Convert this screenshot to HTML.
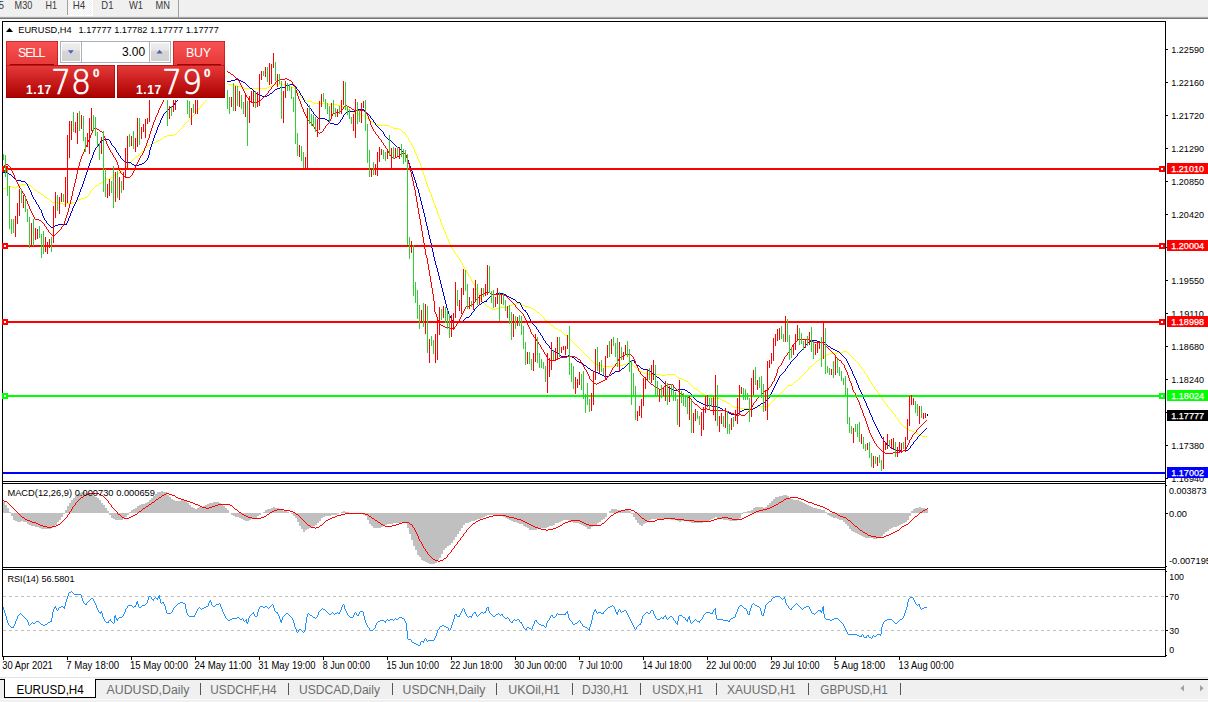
<!DOCTYPE html>
<html><head><meta charset="utf-8"><title>EURUSD,H4</title>
<style>
html,body{margin:0;padding:0}
body{width:1208px;height:702px;overflow:hidden;background:#fff;position:relative;font-family:"Liberation Sans",sans-serif}
.abs{position:absolute}
#tb{left:0;top:0;width:1208px;height:17px;background:#f0f0f0;border-bottom:1px solid #e6e6e6;box-sizing:border-box}
#tbl{left:0;top:17px;width:1208px;height:2px;background:linear-gradient(#a8a8a8 50%,#767676 50%)}
#h4{left:68px;top:0;width:24px;height:15px;background:#f0f0f0 conic-gradient(#fff 25%,#f0f0f0 0 50%,#fff 0 75%,#f0f0f0 0) 0 0/2px 2px;border-right:1px solid #fff;border-bottom:1px solid #fff}
.sep{width:1px;background:#a0a0a0}
#tabbar{left:0;top:677px;width:1208px;height:25px;background:#f0f0f0}
#tabline{left:0;top:679px;width:1208px;height:1px;background:#000}
#tabtop{left:0;top:677px;width:1208px;height:1px;background:#e3e3e3}
#tabbot{left:0;top:699px;width:1208px;height:1px;background:#fbfbfb}
#atab{left:4px;top:679px;width:90px;height:18px;background:#fff;border:1px solid #000;border-top:none}
#atab2{left:5px;top:678px;width:90px;height:2px;background:#fff}
.pbox{background:linear-gradient(#e73a3a,#ab0000);color:#fff;box-shadow:inset 0 0 0 1px rgba(150,0,0,.55)}
.ptab{background:linear-gradient(#f85252,#e63838);color:#fff;box-shadow:inset 1px 1px 0 0 rgba(170,0,0,.5),inset -1px 0 0 0 rgba(170,0,0,.5)}
.big{position:absolute;font-family:'DejaVu Sans Light','DejaVu Sans',sans-serif;font-size:34px;line-height:34px;transform-origin:0 0;transform:scaleX(.93);-webkit-text-stroke:.7px #fff}
.sm{position:absolute;font-size:12px;line-height:12px;font-weight:bold;letter-spacing:.6px}
.sup{position:absolute;font-size:11.5px;line-height:11px;font-weight:bold;-webkit-text-stroke:.3px #fff}
.lab{position:absolute;font-size:12.4px;line-height:12px;letter-spacing:-.2px}
</style></head><body>
<div class="abs" id="tb"></div><div class="abs" id="tbl"></div>
<div class="abs" id="h4"></div>
<div class="abs sep" style="left:67px;top:0;height:15px"></div>
<div class="abs sep" style="left:178px;top:0;height:17px"></div>
<div class="abs" id="tabbar"></div><div class="abs" id="tabtop"></div><div class="abs" id="tabline"></div><div class="abs" id="tabbot"></div>
<div class="abs" id="atab"></div><div class="abs" id="atab2"></div>
<svg width="1208" height="702" viewBox="0 0 1208 702" style="position:absolute;left:0;top:0" font-family="Liberation Sans, sans-serif">
<g shape-rendering="crispEdges" fill="none" stroke="#000" stroke-width="1">
<path d="M2.5,657 V21.5 H1165.5 V657"/>
<path d="M2,481.5 H1166 M2,483.5 H1166 M2,567.5 H1166 M2,569.5 H1166 M2,656.5 H1166"/>
<path d="M1166,49.5 h2 M1166,82.5 h2 M1166,115.5 h2 M1166,148.5 h2 M1166,181.5 h2 M1166,214.5 h2 M1166,247.5 h2 M1166,280.5 h2 M1166,313.5 h2 M1166,346.5 h2 M1166,379.5 h2 M1166,412.5 h2 M1166,445.5 h2 M1166,478.5 h2 "/>
<path d="M1166,485.5 h1 M1166,513.5 h2 M1166,566.5 h1 M1166,571.5 h1 M1166,596.5 h2 M1166,630.5 h2 M1166,655.5 h1"/>
<path d="M3.5,657 v3 M67.5,657 v3 M131.5,657 v3 M195.5,657 v3 M259.5,657 v3 M323.5,657 v3 M387.5,657 v3 M451.5,657 v3 M515.5,657 v3 M579.5,657 v3 M643.5,657 v3 M707.5,657 v3 M771.5,657 v3 M835.5,657 v3 M899.5,657 v3 "/>
</g>
<path shape-rendering="crispEdges" fill="none" stroke="#ffff00" stroke-width="1" d="M3.5,188v1M4.5,188v1M5.5,188v1M6.5,187v1M7.5,186v1M8.5,186v1M9.5,186v1M10.5,186v1M11.5,186v1M12.5,187v1M13.5,187v1M14.5,187v1M15.5,188v1M16.5,187v1M17.5,186v1M18.5,186v1M19.5,185v1M20.5,185v1M21.5,184v1M22.5,184v1M23.5,184v1M24.5,184v1M25.5,184v1M26.5,184v1M27.5,184v1M28.5,184v1M29.5,185v1M30.5,185v1M31.5,186v1M32.5,187v1M33.5,188v1M34.5,189v1M35.5,190v1M36.5,190v1M37.5,191v1M38.5,192v1M39.5,192v1M40.5,193v1M41.5,194v1M42.5,194v1M43.5,195v1M44.5,196v1M45.5,197v1M46.5,197v1M47.5,198v1M48.5,198v1M49.5,199v1M50.5,200v1M51.5,201v1M52.5,202v1M53.5,202v1M54.5,202v1M55.5,202v1M56.5,202v1M57.5,202v1M58.5,203v1M59.5,203v1M60.5,203v1M61.5,203v1M62.5,203v1M63.5,204v1M64.5,204v1M65.5,204v1M66.5,203v1M67.5,203v1M68.5,203v1M69.5,203v1M70.5,203v1M71.5,203v1M72.5,202v1M73.5,202v1M74.5,202v1M75.5,202v1M76.5,201v1M77.5,200v1M78.5,200v1M79.5,199v1M80.5,199v1M81.5,198v1M82.5,198v1M83.5,198v1M84.5,198v1M85.5,197v1M86.5,197v1M87.5,196v1M88.5,195v1M89.5,193v2M90.5,191v2M91.5,190v1M92.5,189v1M93.5,188v1M94.5,187v1M95.5,186v1M96.5,185v1M97.5,185v1M98.5,184v1M99.5,183v1M100.5,183v1M101.5,182v1M102.5,182v1M103.5,181v1M104.5,180v1M105.5,180v1M106.5,179v1M107.5,179v1M108.5,179v1M109.5,178v1M110.5,178v1M111.5,177v1M112.5,177v1M113.5,176v1M114.5,175v1M115.5,175v1M116.5,174v1M117.5,174v1M118.5,173v1M119.5,172v1M120.5,172v1M121.5,171v1M122.5,170v1M123.5,169v1M124.5,168v1M125.5,167v1M126.5,166v1M127.5,165v1M128.5,164v1M129.5,163v1M130.5,162v1M131.5,161v1M132.5,160v1M133.5,159v1M134.5,158v1M135.5,157v1M136.5,156v1M137.5,156v1M138.5,155v1M139.5,154v1M140.5,153v1M141.5,152v1M142.5,151v1M143.5,150v1M144.5,148v2M145.5,147v1M146.5,147v1M147.5,146v1M148.5,145v1M149.5,145v1M150.5,144v1M151.5,144v1M152.5,143v1M153.5,143v1M154.5,142v1M155.5,142v1M156.5,141v1M157.5,141v1M158.5,140v1M159.5,140v1M160.5,139v1M161.5,139v1M162.5,138v1M163.5,137v1M164.5,136v1M165.5,136v1M166.5,136v1M167.5,135v1M168.5,135v1M169.5,135v1M170.5,135v1M171.5,135v1M172.5,135v1M173.5,135v1M174.5,134v1M175.5,134v1M176.5,133v1M177.5,132v1M178.5,131v1M179.5,130v1M180.5,129v1M181.5,128v1M182.5,127v1M183.5,125v2M184.5,124v1M185.5,123v1M186.5,122v1M187.5,121v1M188.5,120v1M189.5,119v1M190.5,118v1M191.5,117v1M192.5,116v1M193.5,115v1M194.5,114v1M195.5,112v2M196.5,111v1M197.5,110v1M198.5,109v1M199.5,108v1M200.5,107v1M201.5,105v2M202.5,104v1M203.5,103v1M204.5,102v1M205.5,101v1M206.5,100v1M207.5,98v2M208.5,97v1M209.5,96v1M210.5,95v1M211.5,94v1M212.5,93v1M213.5,92v1M214.5,91v1M215.5,90v1M216.5,90v1M217.5,89v1M218.5,88v1M219.5,87v1M220.5,87v1M221.5,86v1M222.5,86v1M223.5,85v1M224.5,85v1M225.5,84v1M226.5,84v1M227.5,83v1M228.5,84v1M229.5,84v1M230.5,84v1M231.5,84v1M232.5,84v1M233.5,84v1M234.5,85v1M235.5,85v1M236.5,85v1M237.5,85v1M238.5,86v1M239.5,86v1M240.5,86v1M241.5,87v1M242.5,87v1M243.5,87v1M244.5,88v1M245.5,88v1M246.5,88v1M247.5,88v1M248.5,88v1M249.5,88v1M250.5,88v1M251.5,88v1M252.5,88v1M253.5,88v1M254.5,88v1M255.5,88v1M256.5,88v1M257.5,88v1M258.5,88v1M259.5,88v1M260.5,88v1M261.5,88v1M262.5,88v1M263.5,88v1M264.5,88v1M265.5,88v1M266.5,88v1M267.5,87v1M268.5,87v1M269.5,86v1M270.5,86v1M271.5,85v1M272.5,85v1M273.5,85v1M274.5,84v1M275.5,84v1M276.5,84v1M277.5,84v1M278.5,84v1M279.5,84v1M280.5,83v1M281.5,84v1M282.5,84v1M283.5,84v1M284.5,84v1M285.5,84v1M286.5,85v1M287.5,85v1M288.5,85v1M289.5,86v1M290.5,86v1M291.5,86v1M292.5,87v1M293.5,87v1M294.5,88v1M295.5,89v1M296.5,90v1M297.5,91v2M298.5,93v1M299.5,94v1M300.5,95v2M301.5,97v1M302.5,98v1M303.5,99v1M304.5,99v1M305.5,100v1M306.5,100v1M307.5,101v1M308.5,101v1M309.5,101v1M310.5,101v1M311.5,101v1M312.5,102v1M313.5,102v1M314.5,103v1M315.5,103v1M316.5,103v1M317.5,103v1M318.5,103v1M319.5,103v1M320.5,103v1M321.5,103v1M322.5,103v1M323.5,103v1M324.5,103v1M325.5,103v1M326.5,103v1M327.5,104v1M328.5,104v1M329.5,104v1M330.5,104v1M331.5,104v1M332.5,104v1M333.5,104v1M334.5,104v1M335.5,104v1M336.5,104v1M337.5,105v1M338.5,105v1M339.5,105v1M340.5,105v1M341.5,105v1M342.5,106v1M343.5,106v1M344.5,107v1M345.5,108v1M346.5,108v1M347.5,108v1M348.5,109v1M349.5,110v1M350.5,110v1M351.5,111v1M352.5,111v1M353.5,112v1M354.5,112v1M355.5,113v1M356.5,113v1M357.5,114v1M358.5,114v1M359.5,114v1M360.5,114v1M361.5,115v1M362.5,115v1M363.5,115v1M364.5,116v1M365.5,117v1M366.5,117v1M367.5,118v1M368.5,119v1M369.5,120v1M370.5,120v1M371.5,121v1M372.5,122v1M373.5,122v1M374.5,123v1M375.5,124v1M376.5,124v1M377.5,124v1M378.5,125v1M379.5,125v1M380.5,125v1M381.5,125v1M382.5,125v1M383.5,125v1M384.5,125v1M385.5,125v1M386.5,125v1M387.5,125v1M388.5,125v1M389.5,126v1M390.5,126v1M391.5,127v1M392.5,127v1M393.5,128v1M394.5,128v1M395.5,128v1M396.5,128v1M397.5,128v1M398.5,128v1M399.5,129v1M400.5,129v1M401.5,130v1M402.5,131v1M403.5,132v1M404.5,132v1M405.5,133v2M406.5,135v2M407.5,137v1M408.5,138v2M409.5,140v2M410.5,142v1M411.5,143v2M412.5,145v2M413.5,147v2M414.5,149v3M415.5,152v2M416.5,154v2M417.5,156v3M418.5,159v2M419.5,161v2M420.5,163v3M421.5,166v3M422.5,169v3M423.5,172v3M424.5,175v3M425.5,178v3M426.5,181v3M427.5,184v3M428.5,187v2M429.5,189v3M430.5,192v2M431.5,194v3M432.5,197v3M433.5,200v3M434.5,203v2M435.5,205v3M436.5,208v3M437.5,211v3M438.5,214v3M439.5,217v2M440.5,219v3M441.5,222v3M442.5,225v2M443.5,227v3M444.5,230v2M445.5,232v3M446.5,235v2M447.5,237v2M448.5,239v3M449.5,242v2M450.5,244v2M451.5,246v2M452.5,248v2M453.5,250v1M454.5,251v2M455.5,253v1M456.5,254v1M457.5,255v2M458.5,257v1M459.5,258v2M460.5,260v2M461.5,262v1M462.5,263v2M463.5,265v2M464.5,267v2M465.5,269v1M466.5,270v2M467.5,272v2M468.5,274v2M469.5,276v1M470.5,277v2M471.5,279v2M472.5,281v2M473.5,283v1M474.5,284v2M475.5,286v2M476.5,288v2M477.5,290v3M478.5,293v2M479.5,295v2M480.5,297v2M481.5,299v2M482.5,301v1M483.5,302v1M484.5,303v1M485.5,304v1M486.5,305v1M487.5,306v1M488.5,306v1M489.5,307v1M490.5,308v1M491.5,308v1M492.5,309v1M493.5,309v1M494.5,309v1M495.5,309v1M496.5,308v1M497.5,308v1M498.5,308v1M499.5,308v1M500.5,307v1M501.5,307v1M502.5,307v1M503.5,307v1M504.5,307v1M505.5,307v1M506.5,307v1M507.5,307v1M508.5,306v1M509.5,306v1M510.5,305v1M511.5,305v1M512.5,304v1M513.5,304v1M514.5,304v1M515.5,304v1M516.5,303v1M517.5,303v1M518.5,303v1M519.5,303v1M520.5,303v1M521.5,304v1M522.5,304v1M523.5,305v1M524.5,305v1M525.5,306v1M526.5,306v1M527.5,306v1M528.5,307v1M529.5,307v1M530.5,307v1M531.5,308v1M532.5,308v1M533.5,309v1M534.5,309v1M535.5,310v1M536.5,311v1M537.5,312v1M538.5,312v1M539.5,313v1M540.5,314v1M541.5,315v1M542.5,316v1M543.5,317v1M544.5,318v2M545.5,320v1M546.5,320v1M547.5,321v1M548.5,322v1M549.5,323v1M550.5,324v1M551.5,325v1M552.5,325v1M553.5,326v1M554.5,327v1M555.5,328v1M556.5,328v1M557.5,329v1M558.5,329v1M559.5,330v1M560.5,330v1M561.5,331v1M562.5,332v1M563.5,333v1M564.5,334v1M565.5,335v1M566.5,335v1M567.5,336v1M568.5,337v1M569.5,338v1M570.5,339v1M571.5,340v1M572.5,341v1M573.5,342v1M574.5,343v1M575.5,344v1M576.5,345v1M577.5,346v1M578.5,347v1M579.5,348v1M580.5,349v1M581.5,350v1M582.5,351v1M583.5,352v1M584.5,353v1M585.5,354v1M586.5,355v1M587.5,356v1M588.5,357v1M589.5,358v1M590.5,359v1M591.5,360v1M592.5,361v1M593.5,362v1M594.5,363v1M595.5,363v1M596.5,364v1M597.5,364v1M598.5,365v1M599.5,365v1M600.5,365v1M601.5,366v1M602.5,366v1M603.5,366v1M604.5,366v1M605.5,366v1M606.5,366v1M607.5,366v1M608.5,366v1M609.5,366v1M610.5,366v1M611.5,366v1M612.5,366v1M613.5,365v1M614.5,365v1M615.5,365v1M616.5,365v1M617.5,365v1M618.5,365v1M619.5,365v1M620.5,365v1M621.5,365v1M622.5,365v1M623.5,364v1M624.5,364v1M625.5,364v1M626.5,363v1M627.5,363v1M628.5,363v1M629.5,363v1M630.5,362v1M631.5,363v1M632.5,364v1M633.5,365v1M634.5,366v1M635.5,367v1M636.5,368v1M637.5,369v1M638.5,369v1M639.5,370v1M640.5,371v1M641.5,371v1M642.5,372v1M643.5,372v1M644.5,373v1M645.5,373v1M646.5,373v1M647.5,374v1M648.5,374v1M649.5,374v1M650.5,374v1M651.5,374v1M652.5,374v1M653.5,374v1M654.5,374v1M655.5,374v1M656.5,374v1M657.5,374v1M658.5,374v1M659.5,374v1M660.5,374v1M661.5,375v1M662.5,375v1M663.5,375v1M664.5,375v1M665.5,375v1M666.5,374v1M667.5,374v1M668.5,374v1M669.5,374v1M670.5,374v1M671.5,374v1M672.5,374v1M673.5,374v1M674.5,374v1M675.5,375v1M676.5,376v1M677.5,377v1M678.5,377v1M679.5,378v1M680.5,378v1M681.5,378v1M682.5,379v1M683.5,379v1M684.5,380v1M685.5,380v1M686.5,381v1M687.5,381v1M688.5,382v1M689.5,383v1M690.5,384v1M691.5,385v1M692.5,386v1M693.5,387v1M694.5,388v1M695.5,388v1M696.5,389v1M697.5,389v1M698.5,390v1M699.5,391v1M700.5,392v1M701.5,393v1M702.5,393v1M703.5,394v1M704.5,394v1M705.5,395v1M706.5,395v1M707.5,396v1M708.5,396v1M709.5,396v1M710.5,397v1M711.5,397v1M712.5,398v1M713.5,398v1M714.5,398v1M715.5,398v1M716.5,398v1M717.5,398v1M718.5,398v1M719.5,398v1M720.5,399v1M721.5,399v1M722.5,400v1M723.5,400v1M724.5,401v1M725.5,401v1M726.5,402v1M727.5,402v1M728.5,403v1M729.5,403v1M730.5,404v1M731.5,405v1M732.5,406v1M733.5,406v1M734.5,407v1M735.5,407v1M736.5,407v1M737.5,407v1M738.5,407v1M739.5,407v1M740.5,408v1M741.5,408v1M742.5,408v1M743.5,408v1M744.5,408v1M745.5,408v1M746.5,408v1M747.5,408v1M748.5,408v1M749.5,408v1M750.5,408v1M751.5,408v1M752.5,408v1M753.5,408v1M754.5,407v1M755.5,407v1M756.5,407v1M757.5,406v1M758.5,406v1M759.5,406v1M760.5,406v1M761.5,406v1M762.5,406v1M763.5,406v1M764.5,406v1M765.5,406v1M766.5,406v1M767.5,405v1M768.5,405v1M769.5,404v2M770.5,403v1M771.5,402v1M772.5,401v1M773.5,400v1M774.5,399v1M775.5,398v1M776.5,397v1M777.5,396v1M778.5,395v1M779.5,394v1M780.5,393v1M781.5,392v1M782.5,391v1M783.5,390v1M784.5,389v1M785.5,388v1M786.5,387v1M787.5,386v1M788.5,385v1M789.5,385v1M790.5,385v1M791.5,385v1M792.5,384v1M793.5,383v1M794.5,382v1M795.5,381v1M796.5,380v1M797.5,380v1M798.5,379v1M799.5,378v1M800.5,377v1M801.5,376v1M802.5,375v1M803.5,374v1M804.5,373v1M805.5,372v1M806.5,371v1M807.5,370v1M808.5,368v2M809.5,367v1M810.5,366v1M811.5,366v1M812.5,365v1M813.5,364v1M814.5,363v1M815.5,362v1M816.5,361v1M817.5,360v1M818.5,360v1M819.5,359v1M820.5,358v1M821.5,358v1M822.5,357v1M823.5,356v1M824.5,356v1M825.5,355v1M826.5,355v1M827.5,354v1M828.5,354v1M829.5,353v1M830.5,353v1M831.5,353v1M832.5,353v1M833.5,353v1M834.5,353v1M835.5,353v1M836.5,353v1M837.5,352v1M838.5,352v1M839.5,352v1M840.5,352v1M841.5,352v1M842.5,352v1M843.5,351v1M844.5,351v1M845.5,351v1M846.5,351v1M847.5,352v1M848.5,353v1M849.5,354v1M850.5,355v1M851.5,356v1M852.5,357v1M853.5,358v1M854.5,359v1M855.5,360v1M856.5,361v1M857.5,362v1M858.5,363v1M859.5,364v2M860.5,366v1M861.5,367v1M862.5,368v2M863.5,370v1M864.5,371v2M865.5,373v1M866.5,374v1M867.5,375v2M868.5,377v2M869.5,379v2M870.5,381v1M871.5,382v2M872.5,384v2M873.5,386v1M874.5,387v2M875.5,389v1M876.5,390v1M877.5,391v1M878.5,392v2M879.5,394v1M880.5,395v2M881.5,397v1M882.5,398v2M883.5,400v1M884.5,401v2M885.5,403v1M886.5,404v1M887.5,405v2M888.5,407v1M889.5,408v1M890.5,409v1M891.5,410v2M892.5,412v1M893.5,413v1M894.5,414v1M895.5,415v2M896.5,417v1M897.5,418v1M898.5,419v2M899.5,421v1M900.5,422v2M901.5,424v1M902.5,425v1M903.5,426v1M904.5,427v1M905.5,427v1M906.5,428v1M907.5,429v1M908.5,429v1M909.5,430v1M910.5,430v1M911.5,430v1M912.5,431v1M913.5,431v1M914.5,432v1M915.5,432v1M916.5,433v1M917.5,433v1M918.5,434v1M919.5,434v1M920.5,435v1M921.5,435v1M922.5,436v1M923.5,436v1M924.5,436v1M925.5,436v1M926.5,436v1"/>
<path shape-rendering="crispEdges" fill="none" stroke="#0000dd" stroke-width="1" d="M3.5,172v1M4.5,172v1M5.5,172v1M6.5,172v1M7.5,172v1M8.5,173v1M9.5,174v1M10.5,174v1M11.5,175v1M12.5,176v1M13.5,177v1M14.5,178v1M15.5,179v1M16.5,180v1M17.5,180v1M18.5,180v1M19.5,180v1M20.5,180v1M21.5,181v1M22.5,181v1M23.5,181v1M24.5,181v1M25.5,182v1M26.5,183v1M27.5,184v2M28.5,186v2M29.5,188v2M30.5,190v2M31.5,192v3M32.5,195v2M33.5,197v2M34.5,199v1M35.5,200v2M36.5,202v2M37.5,204v1M38.5,205v2M39.5,207v2M40.5,209v1M41.5,210v3M42.5,213v3M43.5,216v2M44.5,218v2M45.5,220v1M46.5,221v2M47.5,223v1M48.5,224v1M49.5,225v1M50.5,226v1M51.5,227v1M52.5,227v1M53.5,226v1M54.5,226v1M55.5,225v1M56.5,225v1M57.5,225v1M58.5,224v1M59.5,224v1M60.5,224v1M61.5,224v1M62.5,224v1M63.5,224v1M64.5,224v1M65.5,224v1M66.5,223v2M67.5,221v2M68.5,218v3M69.5,216v2M70.5,213v3M71.5,211v2M72.5,208v3M73.5,206v2M74.5,204v2M75.5,202v2M76.5,200v2M77.5,197v3M78.5,195v2M79.5,192v3M80.5,189v3M81.5,187v2M82.5,184v3M83.5,181v3M84.5,178v3M85.5,175v3M86.5,172v3M87.5,169v3M88.5,166v3M89.5,163v3M90.5,160v3M91.5,158v2M92.5,155v3M93.5,152v3M94.5,150v2M95.5,148v2M96.5,147v1M97.5,146v1M98.5,144v2M99.5,143v1M100.5,141v2M101.5,140v1M102.5,140v1M103.5,140v1M104.5,139v1M105.5,139v1M106.5,139v1M107.5,139v1M108.5,139v1M109.5,140v1M110.5,141v2M111.5,143v2M112.5,145v1M113.5,146v1M114.5,147v1M115.5,148v2M116.5,150v2M117.5,152v1M118.5,153v2M119.5,155v1M120.5,156v2M121.5,158v1M122.5,159v1M123.5,160v1M124.5,161v1M125.5,161v1M126.5,162v1M127.5,162v1M128.5,162v1M129.5,162v1M130.5,162v1M131.5,163v1M132.5,164v1M133.5,164v1M134.5,165v1M135.5,165v1M136.5,165v1M137.5,165v1M138.5,165v1M139.5,164v1M140.5,164v1M141.5,164v1M142.5,163v1M143.5,163v1M144.5,162v1M145.5,161v1M146.5,160v1M147.5,158v2M148.5,155v3M149.5,150v5M150.5,147v3M151.5,144v3M152.5,141v3M153.5,138v3M154.5,135v3M155.5,133v2M156.5,130v3M157.5,127v3M158.5,125v2M159.5,123v2M160.5,120v3M161.5,118v2M162.5,116v2M163.5,114v2M164.5,113v1M165.5,112v1M166.5,111v1M167.5,110v1M168.5,109v1M169.5,108v1M170.5,107v1M171.5,106v1M172.5,106v1M173.5,105v1M174.5,103v2M175.5,102v1M176.5,101v1M177.5,100v1M178.5,99v1M179.5,98v1M180.5,98v1M181.5,97v1M182.5,96v1M183.5,95v1M184.5,94v1M185.5,94v1M186.5,93v1M187.5,92v1M188.5,92v1M189.5,91v1M190.5,90v1M191.5,90v1M192.5,89v1M193.5,89v1M194.5,88v1M195.5,87v1M196.5,87v1M197.5,87v1M198.5,86v1M199.5,86v1M200.5,85v1M201.5,85v1M202.5,85v1M203.5,84v1M204.5,84v1M205.5,84v1M206.5,83v1M207.5,83v1M208.5,83v1M209.5,83v1M210.5,83v1M211.5,83v1M212.5,82v1M213.5,82v1M214.5,82v1M215.5,82v1M216.5,82v1M217.5,82v1M218.5,82v1M219.5,82v1M220.5,82v1M221.5,81v1M222.5,81v1M223.5,81v1M224.5,81v1M225.5,81v1M226.5,81v1M227.5,81v1M228.5,81v1M229.5,81v1M230.5,81v1M231.5,80v1M232.5,80v1M233.5,80v1M234.5,80v1M235.5,79v1M236.5,79v1M237.5,79v1M238.5,79v1M239.5,80v1M240.5,80v1M241.5,81v1M242.5,81v1M243.5,82v1M244.5,82v1M245.5,83v1M246.5,84v1M247.5,85v1M248.5,86v1M249.5,87v1M250.5,88v1M251.5,88v1M252.5,89v1M253.5,90v1M254.5,91v1M255.5,92v1M256.5,93v1M257.5,93v1M258.5,94v1M259.5,94v1M260.5,95v1M261.5,95v1M262.5,96v1M263.5,96v1M264.5,96v1M265.5,96v1M266.5,96v1M267.5,95v1M268.5,95v1M269.5,94v1M270.5,93v1M271.5,93v1M272.5,92v1M273.5,91v1M274.5,90v1M275.5,89v1M276.5,89v1M277.5,88v1M278.5,88v1M279.5,88v1M280.5,87v1M281.5,87v1M282.5,87v1M283.5,87v1M284.5,87v1M285.5,86v1M286.5,85v1M287.5,85v1M288.5,85v1M289.5,85v1M290.5,84v1M291.5,84v1M292.5,84v1M293.5,85v1M294.5,85v1M295.5,86v1M296.5,87v2M297.5,89v1M298.5,90v1M299.5,91v2M300.5,93v2M301.5,95v1M302.5,96v2M303.5,98v2M304.5,100v2M305.5,102v1M306.5,103v1M307.5,104v2M308.5,106v1M309.5,107v1M310.5,108v1M311.5,109v2M312.5,111v1M313.5,112v2M314.5,114v1M315.5,115v1M316.5,116v1M317.5,117v1M318.5,118v1M319.5,118v1M320.5,118v1M321.5,118v1M322.5,118v1M323.5,118v1M324.5,118v1M325.5,119v1M326.5,119v1M327.5,120v1M328.5,120v2M329.5,122v1M330.5,123v1M331.5,123v1M332.5,123v1M333.5,123v1M334.5,124v1M335.5,124v1M336.5,124v1M337.5,124v1M338.5,123v1M339.5,122v1M340.5,120v2M341.5,119v1M342.5,117v2M343.5,115v2M344.5,114v1M345.5,113v1M346.5,112v1M347.5,111v1M348.5,111v1M349.5,111v1M350.5,111v1M351.5,111v1M352.5,111v1M353.5,111v1M354.5,111v1M355.5,110v1M356.5,110v1M357.5,109v1M358.5,109v1M359.5,109v1M360.5,109v1M361.5,109v1M362.5,109v1M363.5,109v1M364.5,110v1M365.5,111v1M366.5,112v1M367.5,113v1M368.5,114v1M369.5,115v1M370.5,116v2M371.5,118v1M372.5,119v1M373.5,120v2M374.5,122v1M375.5,123v2M376.5,125v1M377.5,126v1M378.5,127v1M379.5,128v1M380.5,129v1M381.5,130v1M382.5,131v1M383.5,132v2M384.5,134v2M385.5,136v1M386.5,137v1M387.5,138v1M388.5,139v1M389.5,140v1M390.5,140v1M391.5,141v1M392.5,142v1M393.5,143v1M394.5,144v1M395.5,145v1M396.5,146v1M397.5,147v1M398.5,147v1M399.5,148v1M400.5,149v1M401.5,150v1M402.5,151v1M403.5,152v1M404.5,153v1M405.5,154v2M406.5,156v1M407.5,157v3M408.5,160v3M409.5,163v3M410.5,166v2M411.5,168v3M412.5,171v3M413.5,174v3M414.5,177v3M415.5,180v3M416.5,183v4M417.5,187v2M418.5,189v4M419.5,193v4M420.5,197v4M421.5,201v4M422.5,205v4M423.5,209v4M424.5,213v4M425.5,217v5M426.5,222v4M427.5,226v4M428.5,230v5M429.5,235v4M430.5,239v4M431.5,243v5M432.5,248v4M433.5,252v5M434.5,257v4M435.5,261v4M436.5,265v3M437.5,268v4M438.5,272v4M439.5,276v4M440.5,280v4M441.5,284v4M442.5,288v4M443.5,292v4M444.5,296v4M445.5,300v4M446.5,304v4M447.5,308v3M448.5,311v3M449.5,314v2M450.5,316v2M451.5,318v2M452.5,320v1M453.5,321v1M454.5,322v1M455.5,322v1M456.5,322v1M457.5,322v1M458.5,322v1M459.5,322v1M460.5,321v1M461.5,321v1M462.5,321v1M463.5,320v1M464.5,319v1M465.5,318v1M466.5,317v1M467.5,317v1M468.5,317v1M469.5,316v1M470.5,315v1M471.5,313v2M472.5,312v1M473.5,311v1M474.5,309v2M475.5,308v1M476.5,307v1M477.5,306v1M478.5,305v1M479.5,304v1M480.5,304v1M481.5,303v1M482.5,302v1M483.5,302v1M484.5,301v1M485.5,301v1M486.5,300v2M487.5,299v1M488.5,298v1M489.5,297v1M490.5,296v1M491.5,295v1M492.5,294v1M493.5,294v1M494.5,294v1M495.5,294v1M496.5,293v1M497.5,293v1M498.5,293v1M499.5,293v1M500.5,293v1M501.5,293v1M502.5,293v1M503.5,293v1M504.5,294v1M505.5,294v1M506.5,295v1M507.5,296v1M508.5,296v1M509.5,297v1M510.5,297v1M511.5,298v1M512.5,298v1M513.5,299v1M514.5,299v1M515.5,300v1M516.5,301v1M517.5,302v1M518.5,302v1M519.5,302v1M520.5,303v2M521.5,305v2M522.5,307v2M523.5,309v1M524.5,310v1M525.5,310v2M526.5,312v1M527.5,313v2M528.5,315v2M529.5,317v2M530.5,319v2M531.5,321v1M532.5,322v2M533.5,324v1M534.5,325v1M535.5,326v1M536.5,327v2M537.5,329v1M538.5,330v2M539.5,332v1M540.5,333v2M541.5,335v1M542.5,336v2M543.5,338v2M544.5,340v1M545.5,341v2M546.5,343v1M547.5,344v1M548.5,345v1M549.5,346v2M550.5,348v1M551.5,349v1M552.5,350v1M553.5,351v1M554.5,351v1M555.5,352v1M556.5,352v1M557.5,353v1M558.5,353v1M559.5,354v1M560.5,355v1M561.5,356v1M562.5,356v1M563.5,356v1M564.5,356v1M565.5,356v1M566.5,356v1M567.5,356v1M568.5,355v1M569.5,356v1M570.5,356v1M571.5,356v1M572.5,357v1M573.5,357v1M574.5,358v1M575.5,359v1M576.5,360v1M577.5,361v1M578.5,361v1M579.5,362v1M580.5,362v1M581.5,363v1M582.5,363v1M583.5,364v1M584.5,365v1M585.5,365v1M586.5,366v1M587.5,367v1M588.5,368v1M589.5,368v1M590.5,369v1M591.5,370v1M592.5,370v1M593.5,371v1M594.5,371v1M595.5,372v1M596.5,372v1M597.5,372v1M598.5,373v1M599.5,373v1M600.5,374v1M601.5,374v1M602.5,375v1M603.5,375v1M604.5,376v1M605.5,376v1M606.5,376v1M607.5,376v1M608.5,376v1M609.5,375v1M610.5,375v1M611.5,374v1M612.5,373v1M613.5,373v1M614.5,372v1M615.5,371v1M616.5,371v1M617.5,371v1M618.5,371v1M619.5,371v1M620.5,370v1M621.5,369v1M622.5,368v1M623.5,368v1M624.5,367v1M625.5,366v1M626.5,365v1M627.5,364v1M628.5,363v1M629.5,362v1M630.5,361v1M631.5,360v1M632.5,360v1M633.5,360v1M634.5,361v2M635.5,363v1M636.5,364v1M637.5,365v1M638.5,365v1M639.5,366v1M640.5,367v1M641.5,368v1M642.5,368v1M643.5,369v1M644.5,369v1M645.5,369v1M646.5,369v1M647.5,369v1M648.5,370v1M649.5,371v1M650.5,371v1M651.5,372v1M652.5,373v1M653.5,374v1M654.5,374v1M655.5,375v1M656.5,376v1M657.5,377v1M658.5,377v1M659.5,378v1M660.5,379v1M661.5,380v1M662.5,381v1M663.5,382v1M664.5,383v1M665.5,384v1M666.5,385v1M667.5,386v1M668.5,387v1M669.5,388v1M670.5,388v1M671.5,389v1M672.5,389v1M673.5,390v1M674.5,390v1M675.5,390v1M676.5,390v1M677.5,390v1M678.5,389v1M679.5,389v1M680.5,389v1M681.5,389v1M682.5,389v1M683.5,389v1M684.5,389v1M685.5,390v1M686.5,390v1M687.5,391v1M688.5,392v1M689.5,392v1M690.5,393v1M691.5,394v1M692.5,395v2M693.5,397v1M694.5,398v1M695.5,399v1M696.5,400v1M697.5,401v1M698.5,401v1M699.5,402v1M700.5,402v1M701.5,403v1M702.5,403v1M703.5,404v1M704.5,404v1M705.5,405v1M706.5,405v1M707.5,405v1M708.5,405v1M709.5,405v1M710.5,405v1M711.5,406v1M712.5,406v1M713.5,406v1M714.5,406v1M715.5,406v1M716.5,406v1M717.5,407v1M718.5,407v1M719.5,407v1M720.5,408v1M721.5,408v1M722.5,409v1M723.5,410v1M724.5,410v1M725.5,411v1M726.5,411v1M727.5,412v1M728.5,412v1M729.5,413v1M730.5,413v1M731.5,414v1M732.5,414v1M733.5,414v1M734.5,414v1M735.5,414v1M736.5,414v1M737.5,414v1M738.5,413v1M739.5,412v1M740.5,411v1M741.5,411v1M742.5,410v1M743.5,410v1M744.5,409v1M745.5,409v1M746.5,409v1M747.5,409v1M748.5,409v1M749.5,409v1M750.5,409v1M751.5,409v1M752.5,409v1M753.5,408v1M754.5,408v1M755.5,407v1M756.5,407v1M757.5,406v1M758.5,405v1M759.5,405v1M760.5,404v1M761.5,403v1M762.5,403v1M763.5,402v1M764.5,402v1M765.5,401v1M766.5,400v1M767.5,399v1M768.5,398v1M769.5,396v2M770.5,394v2M771.5,392v2M772.5,390v2M773.5,388v2M774.5,386v2M775.5,384v2M776.5,382v2M777.5,380v2M778.5,378v2M779.5,376v2M780.5,375v1M781.5,374v1M782.5,373v1M783.5,372v1M784.5,371v1M785.5,369v2M786.5,368v1M787.5,366v2M788.5,365v1M789.5,364v1M790.5,362v2M791.5,361v1M792.5,360v1M793.5,359v1M794.5,358v1M795.5,357v1M796.5,356v1M797.5,354v2M798.5,353v1M799.5,352v1M800.5,351v1M801.5,350v1M802.5,349v1M803.5,348v1M804.5,347v1M805.5,345v2M806.5,344v1M807.5,343v1M808.5,342v1M809.5,341v1M810.5,341v1M811.5,341v1M812.5,340v1M813.5,340v1M814.5,340v1M815.5,340v1M816.5,340v1M817.5,341v1M818.5,341v1M819.5,341v1M820.5,342v1M821.5,342v1M822.5,342v1M823.5,342v1M824.5,342v1M825.5,343v1M826.5,344v1M827.5,345v1M828.5,346v1M829.5,346v1M830.5,347v1M831.5,348v1M832.5,348v1M833.5,349v1M834.5,349v1M835.5,350v1M836.5,350v1M837.5,351v1M838.5,351v1M839.5,352v1M840.5,353v1M841.5,354v1M842.5,355v1M843.5,356v1M844.5,357v1M845.5,358v1M846.5,359v2M847.5,361v2M848.5,363v2M849.5,365v2M850.5,367v2M851.5,369v2M852.5,371v3M853.5,374v2M854.5,376v2M855.5,378v2M856.5,380v3M857.5,383v2M858.5,385v3M859.5,388v2M860.5,390v2M861.5,392v2M862.5,394v2M863.5,396v3M864.5,399v2M865.5,401v2M866.5,403v3M867.5,406v2M868.5,408v2M869.5,410v3M870.5,413v2M871.5,415v2M872.5,417v3M873.5,420v2M874.5,422v2M875.5,424v2M876.5,426v2M877.5,428v2M878.5,430v2M879.5,432v2M880.5,434v2M881.5,436v2M882.5,438v1M883.5,439v2M884.5,441v1M885.5,442v1M886.5,443v2M887.5,445v1M888.5,445v1M889.5,446v1M890.5,447v1M891.5,447v1M892.5,448v1M893.5,448v1M894.5,449v1M895.5,449v1M896.5,450v1M897.5,450v1M898.5,450v1M899.5,450v1M900.5,450v1M901.5,451v1M902.5,451v1M903.5,450v1M904.5,450v1M905.5,450v1M906.5,450v1M907.5,450v1M908.5,449v1M909.5,448v1M910.5,446v2M911.5,445v1M912.5,444v1M913.5,442v2M914.5,441v1M915.5,440v1M916.5,439v1M917.5,437v2M918.5,436v1M919.5,435v1M920.5,434v1M921.5,433v1M922.5,432v1M923.5,431v1M924.5,430v1M925.5,429v1M926.5,428v1"/>
<path shape-rendering="crispEdges" fill="none" stroke="#ff0000" stroke-width="1" d="M3.5,166v2M4.5,165v1M5.5,164v1M6.5,164v1M7.5,164v1M8.5,165v1M9.5,166v1M10.5,167v2M11.5,169v2M12.5,171v2M13.5,173v2M14.5,175v3M15.5,178v2M16.5,180v2M17.5,182v2M18.5,184v2M19.5,186v2M20.5,188v1M21.5,189v2M22.5,191v2M23.5,193v1M24.5,194v2M25.5,196v3M26.5,199v2M27.5,201v3M28.5,204v2M29.5,206v3M30.5,209v2M31.5,211v2M32.5,213v2M33.5,215v2M34.5,217v2M35.5,219v1M36.5,219v1M37.5,219v1M38.5,219v1M39.5,220v1M40.5,220v1M41.5,221v1M42.5,222v1M43.5,223v1M44.5,224v2M45.5,226v1M46.5,227v2M47.5,229v1M48.5,230v2M49.5,232v1M50.5,233v1M51.5,234v1M52.5,235v1M53.5,235v1M54.5,235v1M55.5,234v1M56.5,233v1M57.5,232v1M58.5,231v1M59.5,230v1M60.5,229v1M61.5,227v2M62.5,226v1M63.5,224v2M64.5,221v3M65.5,218v3M66.5,215v3M67.5,212v3M68.5,208v4M69.5,204v4M70.5,200v4M71.5,196v4M72.5,191v5M73.5,187v4M74.5,183v4M75.5,179v4M76.5,174v5M77.5,170v4M78.5,166v4M79.5,162v4M80.5,159v3M81.5,156v3M82.5,154v2M83.5,152v2M84.5,149v3M85.5,147v2M86.5,145v2M87.5,142v3M88.5,140v2M89.5,138v2M90.5,135v3M91.5,133v2M92.5,130v3M93.5,129v1M94.5,128v1M95.5,127v1M96.5,128v1M97.5,129v1M98.5,129v1M99.5,130v1M100.5,131v1M101.5,131v1M102.5,132v1M103.5,133v3M104.5,136v2M105.5,138v3M106.5,141v3M107.5,144v2M108.5,146v2M109.5,148v2M110.5,150v2M111.5,152v1M112.5,153v2M113.5,155v2M114.5,157v1M115.5,158v2M116.5,160v2M117.5,162v3M118.5,165v3M119.5,168v3M120.5,171v2M121.5,173v1M122.5,174v1M123.5,175v1M124.5,176v1M125.5,177v1M126.5,177v1M127.5,177v1M128.5,177v1M129.5,177v1M130.5,176v1M131.5,175v1M132.5,173v2M133.5,171v2M134.5,168v3M135.5,166v2M136.5,164v2M137.5,162v2M138.5,160v2M139.5,158v2M140.5,156v2M141.5,155v1M142.5,153v2M143.5,151v2M144.5,148v3M145.5,146v2M146.5,143v3M147.5,140v3M148.5,138v2M149.5,134v4M150.5,131v3M151.5,128v3M152.5,125v3M153.5,122v3M154.5,120v2M155.5,117v3M156.5,115v2M157.5,113v2M158.5,110v3M159.5,108v2M160.5,106v2M161.5,104v2M162.5,102v2M163.5,100v2M164.5,99v1M165.5,97v2M166.5,96v1M167.5,94v2M168.5,92v2M169.5,91v1M170.5,90v1M171.5,89v1M172.5,88v1M173.5,87v1M174.5,86v1M175.5,85v1M176.5,84v1M177.5,83v1M178.5,82v1M179.5,81v1M180.5,81v1M181.5,80v1M182.5,80v1M183.5,79v1M184.5,78v1M185.5,78v1M186.5,77v1M187.5,77v1M188.5,76v1M189.5,75v1M190.5,75v1M191.5,74v1M192.5,74v1M193.5,74v1M194.5,73v1M195.5,73v1M196.5,72v1M197.5,72v1M198.5,72v1M199.5,71v1M200.5,71v1M201.5,70v1M202.5,70v1M203.5,70v1M204.5,70v1M205.5,70v1M206.5,69v1M207.5,69v1M208.5,69v1M209.5,69v1M210.5,69v1M211.5,69v1M212.5,68v1M213.5,68v1M214.5,68v1M215.5,68v1M216.5,68v1M217.5,68v1M218.5,68v1M219.5,68v1M220.5,68v1M221.5,69v1M222.5,69v1M223.5,69v1M224.5,70v1M225.5,70v1M226.5,70v1M227.5,71v1M228.5,72v1M229.5,72v1M230.5,73v1M231.5,74v1M232.5,74v1M233.5,75v1M234.5,76v1M235.5,77v1M236.5,78v1M237.5,78v2M238.5,80v1M239.5,81v2M240.5,83v2M241.5,85v2M242.5,87v2M243.5,89v2M244.5,91v2M245.5,93v2M246.5,95v2M247.5,97v1M248.5,98v2M249.5,100v1M250.5,101v1M251.5,102v1M252.5,102v1M253.5,102v1M254.5,102v1M255.5,102v1M256.5,102v1M257.5,102v1M258.5,101v1M259.5,101v1M260.5,100v1M261.5,99v1M262.5,98v1M263.5,97v1M264.5,96v1M265.5,95v1M266.5,94v1M267.5,93v1M268.5,91v2M269.5,90v1M270.5,89v1M271.5,87v2M272.5,86v1M273.5,85v1M274.5,84v1M275.5,82v2M276.5,81v1M277.5,80v1M278.5,80v1M279.5,80v1M280.5,79v1M281.5,79v1M282.5,79v1M283.5,79v1M284.5,79v1M285.5,78v1M286.5,78v1M287.5,79v1M288.5,79v1M289.5,80v1M290.5,80v1M291.5,81v1M292.5,82v2M293.5,84v1M294.5,85v2M295.5,87v3M296.5,90v3M297.5,93v3M298.5,96v3M299.5,99v2M300.5,101v3M301.5,104v3M302.5,107v2M303.5,109v3M304.5,112v2M305.5,114v2M306.5,116v2M307.5,118v2M308.5,120v1M309.5,121v1M310.5,122v1M311.5,123v1M312.5,124v2M313.5,126v1M314.5,127v2M315.5,129v1M316.5,130v1M317.5,131v1M318.5,132v1M319.5,133v1M320.5,132v1M321.5,132v1M322.5,131v1M323.5,129v2M324.5,128v1M325.5,126v2M326.5,125v1M327.5,124v1M328.5,123v1M329.5,121v2M330.5,119v2M331.5,116v3M332.5,114v2M333.5,113v1M334.5,113v1M335.5,112v1M336.5,112v1M337.5,112v1M338.5,112v1M339.5,112v1M340.5,111v1M341.5,110v1M342.5,109v1M343.5,107v2M344.5,106v1M345.5,106v1M346.5,105v1M347.5,106v1M348.5,106v1M349.5,107v1M350.5,107v1M351.5,108v1M352.5,109v1M353.5,109v1M354.5,110v1M355.5,110v1M356.5,110v1M357.5,110v1M358.5,110v1M359.5,110v1M360.5,110v1M361.5,110v1M362.5,110v1M363.5,110v1M364.5,111v1M365.5,112v1M366.5,112v2M367.5,114v2M368.5,116v3M369.5,119v2M370.5,121v4M371.5,125v2M372.5,127v2M373.5,129v2M374.5,131v1M375.5,132v2M376.5,134v1M377.5,135v1M378.5,136v2M379.5,138v1M380.5,139v1M381.5,140v2M382.5,142v1M383.5,143v2M384.5,145v1M385.5,146v2M386.5,148v1M387.5,149v2M388.5,151v2M389.5,153v2M390.5,155v1M391.5,156v1M392.5,157v1M393.5,158v1M394.5,158v1M395.5,157v1M396.5,157v1M397.5,156v1M398.5,156v1M399.5,155v1M400.5,154v1M401.5,153v1M402.5,153v1M403.5,152v1M404.5,153v1M405.5,154v1M406.5,155v3M407.5,158v3M408.5,161v3M409.5,164v4M410.5,168v4M411.5,172v5M412.5,177v4M413.5,181v5M414.5,186v4M415.5,190v6M416.5,196v6M417.5,202v6M418.5,208v6M419.5,214v5M420.5,219v6M421.5,225v6M422.5,231v6M423.5,237v6M424.5,243v6M425.5,249v6M426.5,255v3M427.5,258v6M428.5,264v6M429.5,270v6M430.5,276v6M431.5,282v6M432.5,288v6M433.5,294v7M434.5,301v11M435.5,312v2M436.5,314v3M437.5,317v3M438.5,320v2M439.5,322v2M440.5,324v1M441.5,325v1M442.5,325v1M443.5,326v1M444.5,326v1M445.5,327v1M446.5,327v1M447.5,327v1M448.5,327v1M449.5,328v1M450.5,328v1M451.5,328v1M452.5,328v1M453.5,328v1M454.5,327v2M455.5,326v1M456.5,324v2M457.5,322v2M458.5,321v1M459.5,319v2M460.5,317v2M461.5,315v2M462.5,313v2M463.5,311v2M464.5,309v2M465.5,307v2M466.5,306v1M467.5,306v1M468.5,306v1M469.5,305v1M470.5,305v1M471.5,304v1M472.5,304v1M473.5,303v1M474.5,302v1M475.5,300v2M476.5,299v1M477.5,298v1M478.5,297v1M479.5,296v1M480.5,295v1M481.5,294v1M482.5,294v1M483.5,294v1M484.5,293v1M485.5,293v1M486.5,292v1M487.5,292v1M488.5,292v1M489.5,292v1M490.5,293v1M491.5,293v1M492.5,294v1M493.5,294v1M494.5,294v1M495.5,294v1M496.5,294v1M497.5,294v1M498.5,294v1M499.5,294v1M500.5,294v1M501.5,294v1M502.5,294v1M503.5,294v1M504.5,295v1M505.5,295v1M506.5,296v1M507.5,297v1M508.5,298v1M509.5,299v1M510.5,300v1M511.5,301v1M512.5,302v1M513.5,303v1M514.5,304v1M515.5,305v2M516.5,307v1M517.5,308v1M518.5,309v1M519.5,310v1M520.5,311v1M521.5,312v1M522.5,313v1M523.5,314v2M524.5,316v2M525.5,318v2M526.5,320v2M527.5,322v3M528.5,325v2M529.5,327v2M530.5,329v3M531.5,332v2M532.5,334v1M533.5,335v2M534.5,337v1M535.5,338v1M536.5,339v2M537.5,341v1M538.5,342v2M539.5,344v1M540.5,345v2M541.5,347v2M542.5,349v1M543.5,350v2M544.5,352v2M545.5,354v1M546.5,355v2M547.5,357v2M548.5,359v1M549.5,360v1M550.5,360v1M551.5,360v1M552.5,360v1M553.5,360v1M554.5,360v1M555.5,360v1M556.5,359v1M557.5,359v1M558.5,358v1M559.5,358v1M560.5,357v1M561.5,357v1M562.5,357v1M563.5,357v1M564.5,357v1M565.5,357v1M566.5,357v1M567.5,356v1M568.5,356v1M569.5,356v1M570.5,356v1M571.5,356v1M572.5,356v1M573.5,356v1M574.5,356v1M575.5,357v1M576.5,357v1M577.5,358v1M578.5,359v1M579.5,359v1M580.5,360v2M581.5,362v2M582.5,364v1M583.5,365v2M584.5,367v2M585.5,369v1M586.5,370v2M587.5,372v2M588.5,374v2M589.5,376v3M590.5,379v1M591.5,380v1M592.5,381v1M593.5,382v1M594.5,383v1M595.5,383v1M596.5,384v1M597.5,383v1M598.5,383v1M599.5,382v1M600.5,382v1M601.5,381v1M602.5,381v1M603.5,380v1M604.5,380v1M605.5,379v1M606.5,378v2M607.5,377v1M608.5,376v1M609.5,374v2M610.5,372v2M611.5,370v2M612.5,368v2M613.5,367v1M614.5,366v1M615.5,364v2M616.5,363v1M617.5,361v2M618.5,359v2M619.5,358v1M620.5,357v1M621.5,357v1M622.5,356v1M623.5,356v1M624.5,355v1M625.5,354v1M626.5,354v1M627.5,354v1M628.5,354v1M629.5,354v1M630.5,354v1M631.5,355v1M632.5,356v1M633.5,357v2M634.5,359v2M635.5,361v3M636.5,364v2M637.5,366v2M638.5,368v3M639.5,371v1M640.5,372v2M641.5,374v1M642.5,375v1M643.5,376v1M644.5,377v1M645.5,378v1M646.5,379v1M647.5,380v1M648.5,381v1M649.5,382v1M650.5,383v1M651.5,384v1M652.5,384v1M653.5,385v1M654.5,386v1M655.5,387v1M656.5,387v1M657.5,388v1M658.5,388v1M659.5,389v1M660.5,389v1M661.5,389v1M662.5,388v1M663.5,387v1M664.5,386v1M665.5,385v1M666.5,385v1M667.5,384v1M668.5,384v1M669.5,384v1M670.5,384v1M671.5,384v1M672.5,384v1M673.5,385v2M674.5,387v1M675.5,388v1M676.5,389v1M677.5,390v1M678.5,391v1M679.5,392v1M680.5,393v1M681.5,393v1M682.5,394v1M683.5,394v1M684.5,395v1M685.5,395v1M686.5,396v1M687.5,396v1M688.5,397v1M689.5,397v1M690.5,398v1M691.5,399v2M692.5,401v1M693.5,402v1M694.5,403v1M695.5,404v1M696.5,404v1M697.5,405v1M698.5,406v1M699.5,407v1M700.5,408v1M701.5,409v1M702.5,409v1M703.5,409v1M704.5,409v1M705.5,409v1M706.5,408v1M707.5,409v1M708.5,409v1M709.5,409v1M710.5,410v1M711.5,410v1M712.5,410v1M713.5,410v1M714.5,410v1M715.5,410v1M716.5,410v1M717.5,410v1M718.5,410v1M719.5,410v1M720.5,410v1M721.5,410v1M722.5,410v1M723.5,410v1M724.5,410v1M725.5,411v1M726.5,411v1M727.5,411v1M728.5,411v1M729.5,412v1M730.5,412v1M731.5,413v1M732.5,413v1M733.5,413v1M734.5,414v1M735.5,414v1M736.5,415v1M737.5,415v1M738.5,415v1M739.5,414v1M740.5,414v1M741.5,415v1M742.5,415v1M743.5,415v1M744.5,415v1M745.5,414v1M746.5,413v1M747.5,412v1M748.5,411v1M749.5,410v1M750.5,409v1M751.5,407v2M752.5,405v2M753.5,403v2M754.5,402v1M755.5,401v1M756.5,399v2M757.5,398v1M758.5,397v1M759.5,396v1M760.5,395v1M761.5,394v1M762.5,393v1M763.5,392v1M764.5,391v1M765.5,390v1M766.5,390v1M767.5,389v1M768.5,388v2M769.5,387v1M770.5,386v1M771.5,384v2M772.5,382v2M773.5,381v1M774.5,378v3M775.5,376v2M776.5,373v3M777.5,369v4M778.5,367v2M779.5,366v1M780.5,365v1M781.5,363v2M782.5,361v2M783.5,359v2M784.5,357v2M785.5,356v1M786.5,355v1M787.5,353v2M788.5,352v1M789.5,350v2M790.5,349v1M791.5,347v2M792.5,345v2M793.5,344v1M794.5,343v1M795.5,342v1M796.5,341v1M797.5,340v1M798.5,339v1M799.5,338v1M800.5,339v1M801.5,339v1M802.5,339v1M803.5,339v1M804.5,339v1M805.5,339v1M806.5,339v1M807.5,339v1M808.5,339v1M809.5,340v1M810.5,340v1M811.5,340v1M812.5,341v1M813.5,342v1M814.5,342v1M815.5,342v1M816.5,342v1M817.5,342v1M818.5,342v1M819.5,342v1M820.5,342v1M821.5,342v1M822.5,342v1M823.5,343v1M824.5,344v1M825.5,345v1M826.5,346v1M827.5,347v1M828.5,348v1M829.5,349v1M830.5,350v1M831.5,351v1M832.5,352v1M833.5,353v1M834.5,354v1M835.5,355v2M836.5,357v1M837.5,358v1M838.5,359v1M839.5,360v1M840.5,360v1M841.5,361v2M842.5,363v1M843.5,364v1M844.5,365v3M845.5,368v2M846.5,370v2M847.5,372v3M848.5,375v3M849.5,378v3M850.5,381v2M851.5,383v3M852.5,386v4M853.5,390v2M854.5,392v1M855.5,393v2M856.5,395v3M857.5,398v2M858.5,400v2M859.5,402v3M860.5,405v3M861.5,408v2M862.5,410v3M863.5,413v3M864.5,416v2M865.5,418v3M866.5,421v3M867.5,424v3M868.5,427v3M869.5,430v3M870.5,433v2M871.5,435v2M872.5,437v2M873.5,439v2M874.5,441v2M875.5,443v1M876.5,444v2M877.5,446v1M878.5,447v1M879.5,448v1M880.5,449v1M881.5,450v1M882.5,451v1M883.5,452v1M884.5,452v1M885.5,453v1M886.5,453v1M887.5,453v1M888.5,453v1M889.5,453v1M890.5,453v1M891.5,453v1M892.5,453v1M893.5,452v1M894.5,452v1M895.5,452v1M896.5,452v1M897.5,452v1M898.5,452v1M899.5,451v1M900.5,451v1M901.5,451v1M902.5,451v1M903.5,450v1M904.5,450v1M905.5,449v1M906.5,447v2M907.5,445v2M908.5,443v2M909.5,440v3M910.5,439v1M911.5,437v2M912.5,435v2M913.5,434v1M914.5,433v1M915.5,432v1M916.5,430v2M917.5,429v1M918.5,428v1M919.5,427v1M920.5,426v1M921.5,425v1M922.5,424v1M923.5,423v1M924.5,422v1M925.5,421v1M926.5,420v1"/>
<g shape-rendering="crispEdges">
<rect x="3" y="168" width="1162" height="2" fill="#ff0000"/>
<rect x="3" y="245" width="1162" height="2" fill="#ff0000"/>
<rect x="3" y="321" width="1162" height="2" fill="#ff0000"/>
<rect x="3" y="395" width="1162" height="2" fill="#00ff00"/>
<rect x="3" y="472" width="1162" height="2" fill="#0000ff"/>
</g>
<g shape-rendering="crispEdges">
<rect x="2" y="166" width="6" height="6" fill="#ff0000"/><rect x="4" y="168" width="2" height="2" fill="#fff"/>
<rect x="1159" y="166" width="6" height="6" fill="#ff0000"/><rect x="1161" y="168" width="2" height="2" fill="#fff"/>
<rect x="2" y="243" width="6" height="6" fill="#ff0000"/><rect x="4" y="245" width="2" height="2" fill="#fff"/>
<rect x="1159" y="243" width="6" height="6" fill="#ff0000"/><rect x="1161" y="245" width="2" height="2" fill="#fff"/>
<rect x="2" y="319" width="6" height="6" fill="#ff0000"/><rect x="4" y="321" width="2" height="2" fill="#fff"/>
<rect x="1159" y="319" width="6" height="6" fill="#ff0000"/><rect x="1161" y="321" width="2" height="2" fill="#fff"/>
<rect x="2" y="393" width="6" height="6" fill="#00ff00"/><rect x="4" y="395" width="2" height="2" fill="#fff"/>
<rect x="1159" y="393" width="6" height="6" fill="#00ff00"/><rect x="1161" y="395" width="2" height="2" fill="#fff"/>
</g>
<g shape-rendering="crispEdges" fill="none" stroke-width="1">
<path stroke="#32cd32" d="M3.5,154V160M5.5,155V177M7.5,169V196M9.5,186V229M11.5,219V234M13.5,219V233M21.5,189V203M25.5,197V212M27.5,209V222M29.5,217V248M33.5,219V246M39.5,226V238M41.5,234V258M43.5,231V254M51.5,237V252M57.5,195V211M63.5,194V202M73.5,112V132M79.5,111V131M83.5,116V141M85.5,137V152M93.5,115V131M95.5,117V136M97.5,132V146M99.5,143V160M103.5,131V192M105.5,169V197M111.5,181V193M113.5,166V208M117.5,171V198M121.5,181V193M129.5,134V147M133.5,131V149M139.5,118V145M167.5,70V126M171.5,106V116M187.5,75V114M189.5,101V118M193.5,104V113M227.5,90V109M229.5,97V114M233.5,83V111M237.5,86V106M241.5,95V109M243.5,102V114M247.5,101V146M255.5,91V108M263.5,71V76M267.5,67V82M275.5,62V81M279.5,74V84M281.5,81V119M287.5,83V91M289.5,84V91M291.5,87V99M293.5,97V112M295.5,88V144M297.5,133V156M301.5,146V161M303.5,152V168M309.5,105V124M311.5,114V126M313.5,115V127M315.5,117V132M323.5,93V102M325.5,99V109M327.5,103V114M329.5,106V122M333.5,100V113M335.5,108V117M339.5,106V114M345.5,82V110M347.5,106V115M349.5,109V119M351.5,117V124M357.5,102V124M359.5,110V122M365.5,100V131M367.5,124V163M369.5,150V177M373.5,162V175M383.5,150V159M385.5,152V161M389.5,135V156M393.5,147V159M397.5,147V156M401.5,144V157M403.5,149V164M405.5,150V162M407.5,154V245M409.5,237V259M413.5,245V296M415.5,282V303M417.5,290V319M419.5,305V329M423.5,303V327M427.5,306V353M431.5,336V346M433.5,340V354M441.5,309V320M445.5,307V323M447.5,310V329M449.5,314V338M457.5,290V306M465.5,270V291M467.5,284V309M471.5,301V307M477.5,284V305M483.5,288V297M489.5,266V293M491.5,291V303M493.5,290V308M499.5,292V321M503.5,293V305M505.5,300V311M509.5,305V324M511.5,312V340M515.5,316V329M519.5,315V326M521.5,316V335M523.5,326V349M525.5,342V365M529.5,352V364M531.5,359V370M537.5,337V363M539.5,353V368M541.5,359V368M543.5,362V369M545.5,366V382M553.5,350V360M559.5,337V357M569.5,326V375M571.5,363V382M573.5,366V389M581.5,374V390M583.5,371V399M585.5,394V413M587.5,383V405M589.5,399V412M597.5,347V371M601.5,360V372M603.5,368V375M609.5,341V357M613.5,337V346M615.5,343V357M617.5,338V367M621.5,347V360M627.5,341V357M629.5,349V372M631.5,360V405M633.5,373V395M635.5,386V420M649.5,368V380M655.5,365V396M657.5,381V396M661.5,385V398M667.5,383V405M671.5,384V396M673.5,387V401M675.5,392V401M677.5,399V425M681.5,391V403M683.5,393V406M685.5,395V407M687.5,397V414M691.5,400V433M697.5,411V419M699.5,416V425M709.5,398V409M711.5,398V407M717.5,385V426M723.5,416V427M727.5,411V434M729.5,424V434M733.5,417V427M743.5,388V400M745.5,389V400M747.5,393V400M749.5,398V422M755.5,367V385M759.5,377V388M761.5,376V398M763.5,384V412M781.5,326V339M783.5,334V342M787.5,319V342M789.5,335V360M791.5,347V358M799.5,328V345M801.5,333V344M803.5,341V350M807.5,336V346M811.5,327V352M813.5,341V359M821.5,337V367M825.5,328V374M827.5,366V373M829.5,368V375M833.5,361V378M837.5,359V373M839.5,367V376M841.5,371V381M843.5,378V385M845.5,376V395M847.5,388V424M849.5,417V433M851.5,426V434M855.5,424V432M857.5,424V437M859.5,422V442M863.5,437V449M865.5,444V451M869.5,442V458M871.5,453V467M875.5,456V464M879.5,455V463M881.5,460V471M889.5,440V447M895.5,442V457M903.5,442V449M915.5,401V413M917.5,404V416M921.5,406V418"/>
<path stroke="#ff0000" d="M15.5,216V237M17.5,203V224M19.5,189V216M23.5,195V208M31.5,223V246M35.5,228V240M37.5,229V239M45.5,237V252M47.5,242V254M49.5,239V248M53.5,206V243M55.5,192V218M59.5,197V214M61.5,193V202M65.5,177V207M67.5,135V203M69.5,121V158M71.5,121V140M75.5,122V133M77.5,113V144M81.5,115V129M87.5,133V147M89.5,118V154M91.5,108V131M101.5,137V154M107.5,184V198M109.5,179V196M115.5,172V202M119.5,177V200M123.5,172V190M125.5,148V178M127.5,136V169M131.5,136V146M135.5,138V152M137.5,118V147M141.5,127V139M143.5,124V132M145.5,119V138M147.5,118V124M149.5,95V122M169.5,106V119M173.5,72V112M175.5,70V110M191.5,108V125M195.5,77V114M197.5,75V114M231.5,97V107M235.5,86V111M239.5,91V107M245.5,95V117M249.5,96V123M251.5,91V102M253.5,91V107M257.5,92V107M259.5,74V106M261.5,71V80M265.5,67V77M269.5,63V85M271.5,64V84M273.5,53V68M277.5,74V87M283.5,91V123M285.5,81V98M299.5,145V157M305.5,157V168M307.5,108V168M317.5,119V137M319.5,101V130M321.5,94V107M331.5,103V119M337.5,109V117M341.5,100V114M343.5,81V105M353.5,114V131M355.5,99V138M361.5,103V123M363.5,101V108M371.5,169V177M375.5,164V175M377.5,152V176M379.5,147V162M381.5,149V155M387.5,149V159M391.5,148V169M395.5,148V157M399.5,147V159M411.5,241V253M421.5,310V323M425.5,304V334M429.5,339V363M435.5,334V363M437.5,320V360M439.5,307V335M443.5,306V318M451.5,315V337M453.5,313V330M455.5,282V318M459.5,300V311M461.5,288V314M463.5,269V295M469.5,297V309M473.5,288V310M475.5,280V300M479.5,295V305M481.5,288V302M485.5,284V296M487.5,265V295M495.5,297V307M497.5,288V304M501.5,294V304M507.5,306V318M513.5,314V337M517.5,317V326M527.5,352V364M533.5,353V371M535.5,334V362M547.5,353V393M549.5,358V377M551.5,342V370M555.5,348V360M557.5,337V360M561.5,347V353M563.5,346V350M565.5,346V355M567.5,335V349M575.5,377V394M577.5,379V388M579.5,372V385M591.5,393V411M593.5,371V405M595.5,349V380M599.5,362V373M605.5,356V380M607.5,345V358M611.5,339V354M619.5,342V372M623.5,352V360M625.5,345V355M637.5,411V421M639.5,406V416M641.5,399V418M643.5,378V406M645.5,377V389M647.5,369V381M651.5,365V383M653.5,360V380M659.5,389V402M663.5,388V396M665.5,381V401M669.5,386V402M679.5,380V427M689.5,396V420M693.5,413V433M695.5,409V421M701.5,412V436M703.5,407V430M705.5,396V413M707.5,395V407M713.5,397V415M715.5,375V421M719.5,416V432M721.5,413V424M725.5,408V428M731.5,418V430M735.5,410V421M737.5,398V424M739.5,385V415M741.5,387V394M751.5,378V417M753.5,370V395M757.5,380V390M765.5,390V411M767.5,361V420M769.5,360V368M771.5,353V364M773.5,338V361M775.5,334V346M777.5,329V341M779.5,328V340M785.5,316V342M793.5,344V355M795.5,334V350M797.5,325V340M805.5,339V348M809.5,332V345M815.5,344V355M817.5,343V353M819.5,341V349M823.5,323V359M831.5,369V375M835.5,356V375M853.5,428V443M861.5,434V444M867.5,443V450M873.5,456V468M877.5,457V466M883.5,437V469M885.5,442V450M887.5,434V449M891.5,439V449M893.5,438V450M897.5,447V457M899.5,442V453M901.5,443V453M905.5,437V452M907.5,419V440M909.5,396V426M911.5,395V405M913.5,398V405M919.5,406V424M923.5,413V419M925.5,413V418"/>
</g>
<rect x="3" y="39" width="224" height="61" fill="#fff"/>
<rect x="927" y="414" width="1" height="2" fill="#000"/>
<path shape-rendering="crispEdges" fill="none" stroke="#c0c0c0" stroke-width="1" d="M3.5,502 V513 M4.5,502 V513 M5.5,505 V513 M6.5,505 V513 M7.5,508 V513 M8.5,508 V513 M9.5,512 V513 M10.5,512 V513 M11.5,513 V516 M12.5,513 V516 M13.5,513 V520 M14.5,513 V520 M15.5,513 V521 M16.5,513 V521 M17.5,513 V522 M18.5,513 V522 M19.5,513 V522 M20.5,513 V522 M21.5,513 V521 M22.5,513 V521 M23.5,513 V522 M24.5,513 V522 M25.5,513 V522 M26.5,513 V522 M27.5,513 V524 M28.5,513 V524 M29.5,513 V525 M30.5,513 V525 M31.5,513 V526 M32.5,513 V526 M33.5,513 V526 M34.5,513 V526 M35.5,513 V527 M36.5,513 V527 M37.5,513 V527 M38.5,513 V527 M39.5,513 V528 M40.5,513 V528 M41.5,513 V529 M42.5,513 V529 M43.5,513 V529 M44.5,513 V529 M45.5,513 V529 M46.5,513 V529 M47.5,513 V529 M48.5,513 V529 M49.5,513 V529 M50.5,513 V529 M51.5,513 V528 M52.5,513 V528 M53.5,513 V526 M54.5,513 V526 M55.5,513 V525 M56.5,513 V525 M57.5,513 V522 M58.5,513 V522 M59.5,513 V520 M60.5,513 V520 M61.5,513 V517 M62.5,513 V517 M63.5,513 V514 M64.5,513 V514 M65.5,510 V513 M66.5,510 V513 M67.5,506 V513 M68.5,506 V513 M69.5,503 V513 M70.5,503 V513 M71.5,500 V513 M72.5,500 V513 M73.5,498 V513 M74.5,498 V513 M75.5,496 V513 M76.5,496 V513 M77.5,494 V513 M78.5,494 V513 M79.5,493 V513 M80.5,493 V513 M81.5,492 V513 M82.5,492 V513 M83.5,492 V513 M84.5,492 V513 M85.5,493 V513 M86.5,493 V513 M87.5,493 V513 M88.5,493 V513 M89.5,494 V513 M90.5,494 V513 M91.5,495 V513 M92.5,495 V513 M93.5,496 V513 M94.5,496 V513 M95.5,497 V513 M96.5,497 V513 M97.5,498 V513 M98.5,498 V513 M99.5,500 V513 M100.5,500 V513 M101.5,503 V513 M102.5,503 V513 M103.5,505 V513 M104.5,505 V513 M105.5,508 V513 M106.5,508 V513 M107.5,511 V513 M108.5,511 V513 M109.5,513 V515 M110.5,513 V515 M111.5,513 V518 M112.5,513 V518 M113.5,513 V519 M114.5,513 V519 M115.5,513 V520 M116.5,513 V520 M117.5,513 V520 M118.5,513 V520 M119.5,513 V520 M120.5,513 V520 M121.5,513 V520 M122.5,513 V520 M123.5,513 V519 M124.5,513 V519 M125.5,513 V517 M126.5,513 V517 M127.5,513 V515 M128.5,513 V515 M129.5,512 V513 M130.5,512 V513 M131.5,510 V513 M132.5,510 V513 M133.5,509 V513 M134.5,509 V513 M135.5,508 V513 M136.5,508 V513 M137.5,506 V513 M138.5,506 V513 M139.5,505 V513 M140.5,505 V513 M141.5,504 V513 M142.5,504 V513 M143.5,504 V513 M144.5,504 V513 M145.5,503 V513 M146.5,503 V513 M147.5,502 V513 M148.5,502 V513 M149.5,500 V513 M150.5,500 V513 M151.5,498 V513 M152.5,498 V513 M153.5,496 V513 M154.5,496 V513 M155.5,494 V513 M156.5,494 V513 M157.5,492 V513 M158.5,492 V513 M159.5,492 V513 M160.5,492 V513 M161.5,491 V513 M162.5,491 V513 M163.5,492 V513 M164.5,492 V513 M165.5,492 V513 M166.5,492 V513 M167.5,495 V513 M168.5,495 V513 M169.5,497 V513 M170.5,497 V513 M171.5,499 V513 M172.5,499 V513 M173.5,500 V513 M174.5,500 V513 M175.5,501 V513 M176.5,501 V513 M177.5,501 V513 M178.5,501 V513 M179.5,501 V513 M180.5,501 V513 M181.5,500 V513 M182.5,500 V513 M183.5,500 V513 M184.5,500 V513 M185.5,501 V513 M186.5,501 V513 M187.5,503 V513 M188.5,503 V513 M189.5,505 V513 M190.5,505 V513 M191.5,507 V513 M192.5,507 V513 M193.5,508 V513 M194.5,508 V513 M195.5,509 V513 M196.5,509 V513 M197.5,508 V513 M198.5,508 V513 M199.5,507 V513 M200.5,507 V513 M201.5,507 V513 M202.5,507 V513 M203.5,506 V513 M204.5,506 V513 M205.5,505 V513 M206.5,505 V513 M207.5,504 V513 M208.5,504 V513 M209.5,503 V513 M210.5,503 V513 M211.5,503 V513 M212.5,503 V513 M213.5,502 V513 M214.5,502 V513 M215.5,502 V513 M216.5,502 V513 M217.5,502 V513 M218.5,502 V513 M219.5,503 V513 M220.5,503 V513 M221.5,504 V513 M222.5,504 V513 M223.5,506 V513 M224.5,506 V513 M225.5,508 V513 M226.5,508 V513 M227.5,510 V513 M228.5,510 V513 M229.5,513 V513 M230.5,513 V513 M231.5,513 V515 M232.5,513 V515 M233.5,513 V516 M234.5,513 V516 M235.5,513 V517 M236.5,513 V517 M237.5,513 V517 M238.5,513 V517 M239.5,513 V518 M240.5,513 V518 M241.5,513 V519 M242.5,513 V519 M243.5,513 V520 M244.5,513 V520 M245.5,513 V521 M246.5,513 V521 M247.5,513 V521 M248.5,513 V521 M249.5,513 V520 M250.5,513 V520 M251.5,513 V519 M252.5,513 V519 M253.5,513 V518 M254.5,513 V518 M255.5,513 V518 M256.5,513 V518 M257.5,513 V516 M258.5,513 V516 M259.5,513 V515 M260.5,513 V515 M261.5,513 V513 M262.5,513 V513 M263.5,512 V513 M264.5,512 V513 M265.5,510 V513 M266.5,510 V513 M267.5,509 V513 M268.5,509 V513 M269.5,509 V513 M270.5,509 V513 M271.5,508 V513 M272.5,508 V513 M273.5,507 V513 M274.5,507 V513 M275.5,508 V513 M276.5,508 V513 M277.5,508 V513 M278.5,508 V513 M279.5,509 V513 M280.5,509 V513 M281.5,510 V513 M282.5,510 V513 M283.5,511 V513 M284.5,511 V513 M285.5,511 V513 M286.5,511 V513 M287.5,512 V513 M288.5,512 V513 M289.5,513 V513 M290.5,513 V513 M291.5,513 V514 M292.5,513 V514 M293.5,513 V516 M294.5,513 V516 M295.5,513 V518 M296.5,513 V518 M297.5,513 V522 M298.5,513 V522 M299.5,513 V526 M300.5,513 V526 M301.5,513 V529 M302.5,513 V529 M303.5,513 V532 M304.5,513 V532 M305.5,513 V530 M306.5,513 V530 M307.5,513 V529 M308.5,513 V529 M309.5,513 V528 M310.5,513 V528 M311.5,513 V527 M312.5,513 V527 M313.5,513 V526 M314.5,513 V526 M315.5,513 V525 M316.5,513 V525 M317.5,513 V523 M318.5,513 V523 M319.5,513 V521 M320.5,513 V521 M321.5,513 V518 M322.5,513 V518 M323.5,513 V517 M324.5,513 V517 M325.5,513 V516 M326.5,513 V516 M327.5,513 V516 M328.5,513 V516 M329.5,513 V516 M330.5,513 V516 M331.5,513 V515 M332.5,513 V515 M333.5,513 V515 M334.5,513 V515 M335.5,513 V515 M336.5,513 V515 M337.5,513 V514 M338.5,513 V514 M339.5,513 V513 M340.5,513 V513 M341.5,512 V513 M342.5,512 V513 M343.5,511 V513 M344.5,511 V513 M345.5,512 V513 M346.5,512 V513 M347.5,512 V513 M348.5,512 V513 M349.5,513 V513 M350.5,513 V513 M351.5,513 V514 M352.5,513 V514 M353.5,513 V514 M354.5,513 V514 M355.5,513 V514 M356.5,513 V514 M357.5,513 V514 M358.5,513 V514 M359.5,513 V514 M360.5,513 V514 M361.5,513 V514 M362.5,513 V514 M363.5,513 V515 M364.5,513 V515 M365.5,513 V516 M366.5,513 V516 M367.5,513 V520 M368.5,513 V520 M369.5,513 V524 M370.5,513 V524 M371.5,513 V526 M372.5,513 V526 M373.5,513 V528 M374.5,513 V528 M375.5,513 V528 M376.5,513 V528 M377.5,513 V528 M378.5,513 V528 M379.5,513 V528 M380.5,513 V528 M381.5,513 V527 M382.5,513 V527 M383.5,513 V526 M384.5,513 V526 M385.5,513 V525 M386.5,513 V525 M387.5,513 V524 M388.5,513 V524 M389.5,513 V524 M390.5,513 V524 M391.5,513 V524 M392.5,513 V524 M393.5,513 V523 M394.5,513 V523 M395.5,513 V523 M396.5,513 V523 M397.5,513 V523 M398.5,513 V523 M399.5,513 V523 M400.5,513 V523 M401.5,513 V522 M402.5,513 V522 M403.5,513 V522 M404.5,513 V522 M405.5,513 V523 M406.5,513 V523 M407.5,513 V528 M408.5,513 V528 M409.5,513 V534 M410.5,513 V534 M411.5,513 V540 M412.5,513 V540 M413.5,513 V546 M414.5,513 V546 M415.5,513 V550 M416.5,513 V550 M417.5,513 V555 M418.5,513 V555 M419.5,513 V557 M420.5,513 V557 M421.5,513 V560 M422.5,513 V560 M423.5,513 V561 M424.5,513 V561 M425.5,513 V562 M426.5,513 V562 M427.5,513 V563 M428.5,513 V563 M429.5,513 V564 M430.5,513 V564 M431.5,513 V564 M432.5,513 V564 M433.5,513 V564 M434.5,513 V564 M435.5,513 V563 M436.5,513 V563 M437.5,513 V560 M438.5,513 V560 M439.5,513 V558 M440.5,513 V558 M441.5,513 V554 M442.5,513 V554 M443.5,513 V550 M444.5,513 V550 M445.5,513 V548 M446.5,513 V548 M447.5,513 V546 M448.5,513 V546 M449.5,513 V545 M450.5,513 V545 M451.5,513 V543 M452.5,513 V543 M453.5,513 V540 M454.5,513 V540 M455.5,513 V537 M456.5,513 V537 M457.5,513 V534 M458.5,513 V534 M459.5,513 V531 M460.5,513 V531 M461.5,513 V528 M462.5,513 V528 M463.5,513 V525 M464.5,513 V525 M465.5,513 V523 M466.5,513 V523 M467.5,513 V523 M468.5,513 V523 M469.5,513 V522 M470.5,513 V522 M471.5,513 V521 M472.5,513 V521 M473.5,513 V521 M474.5,513 V521 M475.5,513 V520 M476.5,513 V520 M477.5,513 V519 M478.5,513 V519 M479.5,513 V519 M480.5,513 V519 M481.5,513 V518 M482.5,513 V518 M483.5,513 V517 M484.5,513 V517 M485.5,513 V516 M486.5,513 V516 M487.5,513 V515 M488.5,513 V515 M489.5,513 V515 M490.5,513 V515 M491.5,513 V515 M492.5,513 V515 M493.5,513 V515 M494.5,513 V515 M495.5,513 V515 M496.5,513 V515 M497.5,513 V515 M498.5,513 V515 M499.5,513 V515 M500.5,513 V515 M501.5,513 V516 M502.5,513 V516 M503.5,513 V517 M504.5,513 V517 M505.5,513 V518 M506.5,513 V518 M507.5,513 V519 M508.5,513 V519 M509.5,513 V520 M510.5,513 V520 M511.5,513 V521 M512.5,513 V521 M513.5,513 V522 M514.5,513 V522 M515.5,513 V522 M516.5,513 V522 M517.5,513 V523 M518.5,513 V523 M519.5,513 V524 M520.5,513 V524 M521.5,513 V524 M522.5,513 V524 M523.5,513 V526 M524.5,513 V526 M525.5,513 V527 M526.5,513 V527 M527.5,513 V528 M528.5,513 V528 M529.5,513 V530 M530.5,513 V530 M531.5,513 V530 M532.5,513 V530 M533.5,513 V530 M534.5,513 V530 M535.5,513 V530 M536.5,513 V530 M537.5,513 V529 M538.5,513 V529 M539.5,513 V529 M540.5,513 V529 M541.5,513 V528 M542.5,513 V528 M543.5,513 V528 M544.5,513 V528 M545.5,513 V528 M546.5,513 V528 M547.5,513 V527 M548.5,513 V527 M549.5,513 V526 M550.5,513 V526 M551.5,513 V526 M552.5,513 V526 M553.5,513 V525 M554.5,513 V525 M555.5,513 V523 M556.5,513 V523 M557.5,513 V523 M558.5,513 V523 M559.5,513 V522 M560.5,513 V522 M561.5,513 V521 M562.5,513 V521 M563.5,513 V520 M564.5,513 V520 M565.5,513 V520 M566.5,513 V520 M567.5,513 V520 M568.5,513 V520 M569.5,513 V521 M570.5,513 V521 M571.5,513 V522 M572.5,513 V522 M573.5,513 V523 M574.5,513 V523 M575.5,513 V523 M576.5,513 V523 M577.5,513 V523 M578.5,513 V523 M579.5,513 V524 M580.5,513 V524 M581.5,513 V525 M582.5,513 V525 M583.5,513 V526 M584.5,513 V526 M585.5,513 V527 M586.5,513 V527 M587.5,513 V529 M588.5,513 V529 M589.5,513 V529 M590.5,513 V529 M591.5,513 V527 M592.5,513 V527 M593.5,513 V526 M594.5,513 V526 M595.5,513 V525 M596.5,513 V525 M597.5,513 V523 M598.5,513 V523 M599.5,513 V522 M600.5,513 V522 M601.5,513 V520 M602.5,513 V520 M603.5,513 V519 M604.5,513 V519 M605.5,513 V517 M606.5,513 V517 M607.5,513 V513 M608.5,513 V513 M609.5,511 V513 M610.5,511 V513 M611.5,509 V513 M612.5,509 V513 M613.5,509 V513 M614.5,509 V513 M615.5,509 V513 M616.5,509 V513 M617.5,510 V513 M618.5,510 V513 M619.5,510 V513 M620.5,510 V513 M621.5,510 V513 M622.5,510 V513 M623.5,510 V513 M624.5,510 V513 M625.5,509 V513 M626.5,509 V513 M627.5,510 V513 M628.5,510 V513 M629.5,511 V513 M630.5,511 V513 M631.5,513 V514 M632.5,513 V514 M633.5,513 V517 M634.5,513 V517 M635.5,513 V520 M636.5,513 V520 M637.5,513 V523 M638.5,513 V523 M639.5,513 V525 M640.5,513 V525 M641.5,513 V526 M642.5,513 V526 M643.5,513 V524 M644.5,513 V524 M645.5,513 V523 M646.5,513 V523 M647.5,513 V521 M648.5,513 V521 M649.5,513 V520 M650.5,513 V520 M651.5,513 V519 M652.5,513 V519 M653.5,513 V519 M654.5,513 V519 M655.5,513 V519 M656.5,513 V519 M657.5,513 V519 M658.5,513 V519 M659.5,513 V519 M660.5,513 V519 M661.5,513 V519 M662.5,513 V519 M663.5,513 V519 M664.5,513 V519 M665.5,513 V519 M666.5,513 V519 M667.5,513 V519 M668.5,513 V519 M669.5,513 V519 M670.5,513 V519 M671.5,513 V520 M672.5,513 V520 M673.5,513 V520 M674.5,513 V520 M675.5,513 V520 M676.5,513 V520 M677.5,513 V521 M678.5,513 V521 M679.5,513 V522 M680.5,513 V522 M681.5,513 V521 M682.5,513 V521 M683.5,513 V521 M684.5,513 V521 M685.5,513 V521 M686.5,513 V521 M687.5,513 V521 M688.5,513 V521 M689.5,513 V522 M690.5,513 V522 M691.5,513 V523 M692.5,513 V523 M693.5,513 V523 M694.5,513 V523 M695.5,513 V523 M696.5,513 V523 M697.5,513 V523 M698.5,513 V523 M699.5,513 V523 M700.5,513 V523 M701.5,513 V523 M702.5,513 V523 M703.5,513 V522 M704.5,513 V522 M705.5,513 V522 M706.5,513 V522 M707.5,513 V521 M708.5,513 V521 M709.5,513 V520 M710.5,513 V520 M711.5,513 V519 M712.5,513 V519 M713.5,513 V518 M714.5,513 V518 M715.5,513 V517 M716.5,513 V517 M717.5,513 V518 M718.5,513 V518 M719.5,513 V518 M720.5,513 V518 M721.5,513 V519 M722.5,513 V519 M723.5,513 V520 M724.5,513 V520 M725.5,513 V520 M726.5,513 V520 M727.5,513 V520 M728.5,513 V520 M729.5,513 V521 M730.5,513 V521 M731.5,513 V521 M732.5,513 V521 M733.5,513 V521 M734.5,513 V521 M735.5,513 V521 M736.5,513 V521 M737.5,513 V520 M738.5,513 V520 M739.5,513 V518 M740.5,513 V518 M741.5,513 V514 M742.5,513 V514 M743.5,512 V513 M744.5,512 V513 M745.5,512 V513 M746.5,512 V513 M747.5,511 V513 M748.5,511 V513 M749.5,511 V513 M750.5,511 V513 M751.5,510 V513 M752.5,510 V513 M753.5,508 V513 M754.5,508 V513 M755.5,507 V513 M756.5,507 V513 M757.5,507 V513 M758.5,507 V513 M759.5,507 V513 M760.5,507 V513 M761.5,507 V513 M762.5,507 V513 M763.5,508 V513 M764.5,508 V513 M765.5,507 V513 M766.5,507 V513 M767.5,505 V513 M768.5,505 V513 M769.5,503 V513 M770.5,503 V513 M771.5,501 V513 M772.5,501 V513 M773.5,499 V513 M774.5,499 V513 M775.5,497 V513 M776.5,497 V513 M777.5,497 V513 M778.5,497 V513 M779.5,496 V513 M780.5,496 V513 M781.5,496 V513 M782.5,496 V513 M783.5,495 V513 M784.5,495 V513 M785.5,495 V513 M786.5,495 V513 M787.5,496 V513 M788.5,496 V513 M789.5,498 V513 M790.5,498 V513 M791.5,499 V513 M792.5,499 V513 M793.5,500 V513 M794.5,500 V513 M795.5,500 V513 M796.5,500 V513 M797.5,500 V513 M798.5,500 V513 M799.5,501 V513 M800.5,501 V513 M801.5,502 V513 M802.5,502 V513 M803.5,503 V513 M804.5,503 V513 M805.5,504 V513 M806.5,504 V513 M807.5,505 V513 M808.5,505 V513 M809.5,506 V513 M810.5,506 V513 M811.5,507 V513 M812.5,507 V513 M813.5,508 V513 M814.5,508 V513 M815.5,508 V513 M816.5,508 V513 M817.5,509 V513 M818.5,509 V513 M819.5,509 V513 M820.5,509 V513 M821.5,510 V513 M822.5,510 V513 M823.5,510 V513 M824.5,510 V513 M825.5,512 V513 M826.5,512 V513 M827.5,513 V515 M828.5,513 V515 M829.5,513 V516 M830.5,513 V516 M831.5,513 V517 M832.5,513 V517 M833.5,513 V518 M834.5,513 V518 M835.5,513 V518 M836.5,513 V518 M837.5,513 V519 M838.5,513 V519 M839.5,513 V520 M840.5,513 V520 M841.5,513 V520 M842.5,513 V520 M843.5,513 V522 M844.5,513 V522 M845.5,513 V524 M846.5,513 V524 M847.5,513 V526 M848.5,513 V526 M849.5,513 V529 M850.5,513 V529 M851.5,513 V531 M852.5,513 V531 M853.5,513 V532 M854.5,513 V532 M855.5,513 V533 M856.5,513 V533 M857.5,513 V534 M858.5,513 V534 M859.5,513 V535 M860.5,513 V535 M861.5,513 V536 M862.5,513 V536 M863.5,513 V537 M864.5,513 V537 M865.5,513 V538 M866.5,513 V538 M867.5,513 V538 M868.5,513 V538 M869.5,513 V538 M870.5,513 V538 M871.5,513 V538 M872.5,513 V538 M873.5,513 V539 M874.5,513 V539 M875.5,513 V539 M876.5,513 V539 M877.5,513 V538 M878.5,513 V538 M879.5,513 V538 M880.5,513 V538 M881.5,513 V536 M882.5,513 V536 M883.5,513 V534 M884.5,513 V534 M885.5,513 V532 M886.5,513 V532 M887.5,513 V531 M888.5,513 V531 M889.5,513 V529 M890.5,513 V529 M891.5,513 V528 M892.5,513 V528 M893.5,513 V527 M894.5,513 V527 M895.5,513 V527 M896.5,513 V527 M897.5,513 V526 M898.5,513 V526 M899.5,513 V525 M900.5,513 V525 M901.5,513 V524 M902.5,513 V524 M903.5,513 V523 M904.5,513 V523 M905.5,513 V522 M906.5,513 V522 M907.5,513 V520 M908.5,513 V520 M909.5,513 V516 M910.5,513 V516 M911.5,511 V513 M912.5,511 V513 M913.5,509 V513 M914.5,509 V513 M915.5,508 V513 M916.5,508 V513 M917.5,508 V513 M918.5,508 V513 M919.5,507 V513 M920.5,507 V513 M921.5,508 V513 M922.5,508 V513 M923.5,508 V513 M924.5,508 V513 M925.5,509 V513 M926.5,509 V513 M927.5,509 V513"/>
<path shape-rendering="crispEdges" fill="none" stroke="#ff0000" stroke-width="1" d="M3.5,500v1M4.5,501v1M5.5,501v1M6.5,501v1M7.5,502v1M8.5,503v1M9.5,504v1M10.5,505v1M11.5,506v1M12.5,507v1M13.5,508v1M14.5,509v1M15.5,510v1M16.5,511v1M17.5,512v1M18.5,513v1M19.5,514v1M20.5,515v1M21.5,516v1M22.5,517v1M23.5,517v1M24.5,518v1M25.5,519v1M26.5,519v1M27.5,520v1M28.5,520v1M29.5,520v1M30.5,521v1M31.5,521v1M32.5,522v1M33.5,522v1M34.5,522v1M35.5,522v1M36.5,523v1M37.5,523v1M38.5,524v1M39.5,524v1M40.5,525v1M41.5,525v1M42.5,525v1M43.5,526v1M44.5,526v1M45.5,526v1M46.5,526v1M47.5,527v1M48.5,527v1M49.5,527v1M50.5,527v1M51.5,527v1M52.5,526v1M53.5,526v1M54.5,526v1M55.5,526v1M56.5,525v1M57.5,525v1M58.5,524v1M59.5,524v1M60.5,523v1M61.5,522v1M62.5,521v1M63.5,520v1M64.5,519v1M65.5,518v1M66.5,517v1M67.5,515v2M68.5,514v1M69.5,512v2M70.5,511v1M71.5,509v2M72.5,507v2M73.5,506v1M74.5,505v1M75.5,503v2M76.5,502v1M77.5,501v1M78.5,500v1M79.5,499v1M80.5,498v1M81.5,497v1M82.5,497v1M83.5,496v1M84.5,495v1M85.5,495v1M86.5,494v1M87.5,494v1M88.5,494v1M89.5,493v1M90.5,493v1M91.5,493v1M92.5,493v1M93.5,493v1M94.5,493v1M95.5,493v1M96.5,493v1M97.5,493v1M98.5,493v1M99.5,494v1M100.5,494v1M101.5,495v1M102.5,495v1M103.5,496v1M104.5,497v1M105.5,498v1M106.5,499v1M107.5,500v1M108.5,501v2M109.5,503v1M110.5,504v1M111.5,505v2M112.5,507v1M113.5,508v1M114.5,509v1M115.5,510v1M116.5,511v1M117.5,512v2M118.5,514v1M119.5,514v1M120.5,515v1M121.5,516v1M122.5,517v1M123.5,517v1M124.5,518v1M125.5,518v1M126.5,518v1M127.5,518v1M128.5,518v1M129.5,517v1M130.5,517v1M131.5,516v1M132.5,516v1M133.5,515v1M134.5,515v1M135.5,514v1M136.5,514v1M137.5,513v1M138.5,512v1M139.5,511v1M140.5,511v1M141.5,510v1M142.5,509v1M143.5,508v1M144.5,508v1M145.5,507v1M146.5,506v1M147.5,506v1M148.5,505v1M149.5,504v1M150.5,504v1M151.5,503v1M152.5,502v1M153.5,502v1M154.5,501v1M155.5,500v1M156.5,499v1M157.5,499v1M158.5,498v1M159.5,497v1M160.5,497v1M161.5,496v1M162.5,495v1M163.5,495v1M164.5,494v1M165.5,494v1M166.5,493v1M167.5,493v1M168.5,493v1M169.5,494v1M170.5,494v1M171.5,494v1M172.5,495v1M173.5,495v1M174.5,495v1M175.5,496v1M176.5,497v1M177.5,497v1M178.5,498v1M179.5,498v1M180.5,498v1M181.5,499v1M182.5,499v1M183.5,499v1M184.5,500v1M185.5,500v1M186.5,500v1M187.5,501v1M188.5,501v1M189.5,501v1M190.5,502v1M191.5,502v1M192.5,502v1M193.5,503v1M194.5,503v1M195.5,504v1M196.5,504v1M197.5,504v1M198.5,505v1M199.5,505v1M200.5,506v1M201.5,506v1M202.5,507v1M203.5,507v1M204.5,507v1M205.5,507v1M206.5,508v1M207.5,508v1M208.5,508v1M209.5,507v1M210.5,507v1M211.5,507v1M212.5,506v1M213.5,506v1M214.5,506v1M215.5,505v1M216.5,505v1M217.5,505v1M218.5,504v1M219.5,504v1M220.5,504v1M221.5,504v1M222.5,504v1M223.5,504v1M224.5,504v1M225.5,504v1M226.5,504v1M227.5,504v1M228.5,504v1M229.5,504v1M230.5,505v1M231.5,505v1M232.5,506v1M233.5,507v1M234.5,508v1M235.5,509v1M236.5,509v1M237.5,510v1M238.5,511v1M239.5,512v1M240.5,512v1M241.5,513v1M242.5,514v1M243.5,514v1M244.5,515v1M245.5,515v1M246.5,516v1M247.5,516v1M248.5,517v1M249.5,517v1M250.5,517v1M251.5,517v1M252.5,518v1M253.5,518v1M254.5,518v1M255.5,518v1M256.5,518v1M257.5,518v1M258.5,518v1M259.5,518v1M260.5,518v1M261.5,517v1M262.5,517v1M263.5,517v1M264.5,516v1M265.5,516v1M266.5,515v1M267.5,514v1M268.5,514v1M269.5,513v1M270.5,512v1M271.5,512v1M272.5,511v1M273.5,511v1M274.5,510v1M275.5,510v1M276.5,510v1M277.5,509v1M278.5,509v1M279.5,509v1M280.5,509v1M281.5,509v1M282.5,509v1M283.5,509v1M284.5,510v1M285.5,510v1M286.5,510v1M287.5,510v1M288.5,510v1M289.5,510v1M290.5,511v1M291.5,511v1M292.5,511v1M293.5,512v1M294.5,512v1M295.5,513v1M296.5,514v1M297.5,514v1M298.5,515v1M299.5,516v1M300.5,517v1M301.5,518v1M302.5,519v1M303.5,520v1M304.5,521v1M305.5,522v1M306.5,523v1M307.5,524v1M308.5,525v1M309.5,525v1M310.5,526v1M311.5,527v1M312.5,527v1M313.5,527v1M314.5,527v1M315.5,528v1M316.5,527v1M317.5,527v1M318.5,527v1M319.5,526v1M320.5,525v1M321.5,525v1M322.5,524v1M323.5,523v1M324.5,522v1M325.5,521v1M326.5,520v1M327.5,520v1M328.5,519v1M329.5,519v1M330.5,518v1M331.5,518v1M332.5,517v1M333.5,517v1M334.5,517v1M335.5,516v1M336.5,516v1M337.5,515v1M338.5,515v1M339.5,515v1M340.5,515v1M341.5,514v1M342.5,514v1M343.5,514v1M344.5,514v1M345.5,513v1M346.5,513v1M347.5,513v1M348.5,513v1M349.5,513v1M350.5,513v1M351.5,513v1M352.5,513v1M353.5,513v1M354.5,513v1M355.5,513v1M356.5,513v1M357.5,513v1M358.5,513v1M359.5,513v1M360.5,513v1M361.5,513v1M362.5,513v1M363.5,513v1M364.5,513v1M365.5,514v1M366.5,514v1M367.5,514v1M368.5,515v1M369.5,516v1M370.5,516v1M371.5,517v1M372.5,518v1M373.5,518v1M374.5,519v1M375.5,520v1M376.5,520v1M377.5,521v1M378.5,522v1M379.5,522v1M380.5,523v1M381.5,524v1M382.5,524v1M383.5,525v1M384.5,525v1M385.5,526v1M386.5,526v1M387.5,526v1M388.5,526v1M389.5,526v1M390.5,526v1M391.5,526v1M392.5,525v1M393.5,525v1M394.5,525v1M395.5,525v1M396.5,524v1M397.5,524v1M398.5,524v1M399.5,523v1M400.5,523v1M401.5,523v1M402.5,522v1M403.5,522v1M404.5,522v1M405.5,522v1M406.5,522v1M407.5,522v1M408.5,522v1M409.5,523v1M410.5,524v1M411.5,524v1M412.5,525v2M413.5,527v1M414.5,528v2M415.5,530v2M416.5,532v2M417.5,534v2M418.5,536v3M419.5,539v2M420.5,541v1M421.5,542v2M422.5,544v2M423.5,546v2M424.5,548v1M425.5,549v2M426.5,551v1M427.5,552v2M428.5,554v1M429.5,555v1M430.5,556v1M431.5,557v1M432.5,558v1M433.5,559v1M434.5,559v1M435.5,560v1M436.5,560v1M437.5,560v1M438.5,561v1M439.5,561v1M440.5,560v1M441.5,560v1M442.5,560v1M443.5,559v1M444.5,558v1M445.5,558v1M446.5,557v1M447.5,555v2M448.5,554v1M449.5,553v1M450.5,552v1M451.5,550v2M452.5,549v1M453.5,548v1M454.5,546v2M455.5,545v1M456.5,544v1M457.5,542v2M458.5,541v1M459.5,540v1M460.5,538v2M461.5,537v1M462.5,536v1M463.5,534v2M464.5,533v1M465.5,532v1M466.5,530v2M467.5,529v1M468.5,528v1M469.5,527v1M470.5,526v1M471.5,525v1M472.5,524v1M473.5,523v1M474.5,523v1M475.5,522v1M476.5,521v1M477.5,521v1M478.5,520v1M479.5,520v1M480.5,519v1M481.5,519v1M482.5,519v1M483.5,518v1M484.5,518v1M485.5,518v1M486.5,517v1M487.5,517v1M488.5,517v1M489.5,516v1M490.5,516v1M491.5,516v1M492.5,516v1M493.5,515v1M494.5,515v1M495.5,515v1M496.5,515v1M497.5,515v1M498.5,515v1M499.5,515v1M500.5,515v1M501.5,515v1M502.5,515v1M503.5,515v1M504.5,515v1M505.5,515v1M506.5,516v1M507.5,516v1M508.5,516v1M509.5,517v1M510.5,517v1M511.5,517v1M512.5,517v1M513.5,517v1M514.5,518v1M515.5,518v1M516.5,518v1M517.5,519v1M518.5,519v1M519.5,519v1M520.5,519v1M521.5,520v1M522.5,520v1M523.5,521v1M524.5,521v1M525.5,522v1M526.5,522v1M527.5,523v1M528.5,523v1M529.5,524v1M530.5,524v1M531.5,525v1M532.5,525v1M533.5,526v1M534.5,526v1M535.5,527v1M536.5,527v1M537.5,527v1M538.5,528v1M539.5,528v1M540.5,528v1M541.5,529v1M542.5,529v1M543.5,529v1M544.5,529v1M545.5,529v1M546.5,530v1M547.5,530v1M548.5,529v1M549.5,529v1M550.5,529v1M551.5,529v1M552.5,529v1M553.5,528v1M554.5,528v1M555.5,528v1M556.5,527v1M557.5,527v1M558.5,526v1M559.5,526v1M560.5,525v1M561.5,525v1M562.5,524v1M563.5,523v1M564.5,523v1M565.5,522v1M566.5,522v1M567.5,522v1M568.5,521v1M569.5,521v1M570.5,521v1M571.5,520v1M572.5,520v1M573.5,520v1M574.5,520v1M575.5,520v1M576.5,520v1M577.5,520v1M578.5,520v1M579.5,520v1M580.5,521v1M581.5,521v1M582.5,522v1M583.5,522v1M584.5,523v1M585.5,523v1M586.5,524v1M587.5,524v1M588.5,524v1M589.5,525v1M590.5,525v1M591.5,525v1M592.5,525v1M593.5,525v1M594.5,525v1M595.5,525v1M596.5,525v1M597.5,525v1M598.5,525v1M599.5,525v1M600.5,525v1M601.5,524v1M602.5,523v1M603.5,523v1M604.5,522v1M605.5,521v1M606.5,520v1M607.5,519v1M608.5,518v1M609.5,517v1M610.5,516v1M611.5,515v1M612.5,515v1M613.5,514v1M614.5,513v1M615.5,513v1M616.5,512v1M617.5,512v1M618.5,511v1M619.5,511v1M620.5,511v1M621.5,510v1M622.5,510v1M623.5,510v1M624.5,510v1M625.5,509v1M626.5,509v1M627.5,509v1M628.5,509v1M629.5,509v1M630.5,509v1M631.5,510v1M632.5,510v1M633.5,510v1M634.5,511v1M635.5,512v1M636.5,512v1M637.5,513v1M638.5,514v1M639.5,515v1M640.5,516v1M641.5,517v1M642.5,518v1M643.5,518v1M644.5,519v1M645.5,520v1M646.5,520v1M647.5,521v1M648.5,521v1M649.5,521v1M650.5,521v1M651.5,521v1M652.5,521v1M653.5,521v1M654.5,521v1M655.5,520v1M656.5,520v1M657.5,519v1M658.5,519v1M659.5,519v1M660.5,519v1M661.5,519v1M662.5,519v1M663.5,519v1M664.5,518v1M665.5,518v1M666.5,518v1M667.5,518v1M668.5,518v1M669.5,518v1M670.5,518v1M671.5,518v1M672.5,518v1M673.5,518v1M674.5,518v1M675.5,519v1M676.5,519v1M677.5,519v1M678.5,519v1M679.5,519v1M680.5,519v1M681.5,519v1M682.5,519v1M683.5,519v1M684.5,520v1M685.5,520v1M686.5,520v1M687.5,520v1M688.5,520v1M689.5,520v1M690.5,520v1M691.5,520v1M692.5,520v1M693.5,520v1M694.5,521v1M695.5,521v1M696.5,521v1M697.5,521v1M698.5,521v1M699.5,521v1M700.5,521v1M701.5,521v1M702.5,521v1M703.5,521v1M704.5,521v1M705.5,521v1M706.5,521v1M707.5,521v1M708.5,521v1M709.5,521v1M710.5,521v1M711.5,520v1M712.5,520v1M713.5,520v1M714.5,519v1M715.5,519v1M716.5,519v1M717.5,518v1M718.5,518v1M719.5,518v1M720.5,518v1M721.5,518v1M722.5,517v1M723.5,517v1M724.5,517v1M725.5,517v1M726.5,517v1M727.5,517v1M728.5,518v1M729.5,518v1M730.5,518v1M731.5,518v1M732.5,519v1M733.5,519v1M734.5,519v1M735.5,519v1M736.5,519v1M737.5,519v1M738.5,519v1M739.5,519v1M740.5,519v1M741.5,519v1M742.5,518v1M743.5,518v1M744.5,517v1M745.5,517v1M746.5,516v1M747.5,516v1M748.5,515v1M749.5,515v1M750.5,514v1M751.5,514v1M752.5,513v1M753.5,513v1M754.5,512v1M755.5,512v1M756.5,511v1M757.5,511v1M758.5,511v1M759.5,510v1M760.5,510v1M761.5,510v1M762.5,510v1M763.5,509v1M764.5,509v1M765.5,509v1M766.5,509v1M767.5,508v1M768.5,508v1M769.5,508v1M770.5,507v1M771.5,507v1M772.5,506v1M773.5,506v1M774.5,505v1M775.5,505v1M776.5,504v1M777.5,504v1M778.5,503v1M779.5,502v1M780.5,502v1M781.5,501v1M782.5,501v1M783.5,500v1M784.5,499v1M785.5,499v1M786.5,498v1M787.5,498v1M788.5,498v1M789.5,498v1M790.5,497v1M791.5,497v1M792.5,497v1M793.5,497v1M794.5,497v1M795.5,497v1M796.5,497v1M797.5,497v1M798.5,498v1M799.5,498v1M800.5,498v1M801.5,499v1M802.5,499v1M803.5,499v1M804.5,500v1M805.5,500v1M806.5,501v1M807.5,501v1M808.5,502v1M809.5,502v1M810.5,502v1M811.5,502v1M812.5,503v1M813.5,503v1M814.5,504v1M815.5,504v1M816.5,504v1M817.5,505v1M818.5,505v1M819.5,505v1M820.5,506v1M821.5,506v1M822.5,506v1M823.5,507v1M824.5,507v1M825.5,508v1M826.5,508v1M827.5,509v1M828.5,509v1M829.5,510v1M830.5,511v1M831.5,511v1M832.5,512v1M833.5,512v1M834.5,512v1M835.5,513v1M836.5,513v1M837.5,514v1M838.5,515v1M839.5,515v1M840.5,516v1M841.5,516v1M842.5,516v1M843.5,517v1M844.5,517v1M845.5,517v1M846.5,518v1M847.5,519v1M848.5,520v1M849.5,520v1M850.5,521v1M851.5,522v1M852.5,523v1M853.5,524v1M854.5,525v1M855.5,526v1M856.5,526v1M857.5,527v1M858.5,528v1M859.5,529v1M860.5,530v1M861.5,530v1M862.5,531v1M863.5,532v1M864.5,532v1M865.5,533v1M866.5,533v1M867.5,534v1M868.5,535v1M869.5,535v1M870.5,535v1M871.5,536v1M872.5,536v1M873.5,536v1M874.5,536v1M875.5,536v1M876.5,537v1M877.5,537v1M878.5,537v1M879.5,537v1M880.5,537v1M881.5,537v1M882.5,537v1M883.5,537v1M884.5,536v1M885.5,536v1M886.5,535v1M887.5,535v1M888.5,535v1M889.5,534v1M890.5,534v1M891.5,533v1M892.5,533v1M893.5,532v1M894.5,532v1M895.5,531v1M896.5,531v1M897.5,530v1M898.5,530v1M899.5,529v1M900.5,528v1M901.5,527v1M902.5,526v1M903.5,526v1M904.5,525v1M905.5,525v1M906.5,524v1M907.5,524v1M908.5,523v1M909.5,522v1M910.5,521v1M911.5,520v1M912.5,519v1M913.5,518v1M914.5,517v1M915.5,516v1M916.5,516v1M917.5,515v1M918.5,514v1M919.5,513v1M920.5,512v1M921.5,512v1M922.5,511v1M923.5,510v1M924.5,510v1M925.5,509v1M926.5,509v1M927.5,508v1"/>
<g shape-rendering="crispEdges" stroke="#c0c0c0" stroke-width="1" stroke-dasharray="3,3"><path d="M3,596.5 H1165 M3,630.5 H1165"/></g>
<path shape-rendering="crispEdges" fill="none" stroke="#1e90ff" stroke-width="1" d="M3.5,607v3M4.5,610v3M5.5,613v3M6.5,616v4M7.5,620v3M8.5,623v2M9.5,625v1M10.5,626v1M11.5,627v1M12.5,627v1M13.5,626v2M14.5,624v2M15.5,621v3M16.5,619v2M17.5,616v3M18.5,615v1M19.5,614v1M20.5,613v1M21.5,614v1M22.5,615v1M23.5,616v1M24.5,617v1M25.5,618v1M26.5,619v1M27.5,620v2M28.5,622v3M29.5,625v1M30.5,624v1M31.5,623v1M32.5,622v1M33.5,623v1M34.5,623v1M35.5,622v1M36.5,621v1M37.5,621v1M38.5,621v1M39.5,622v1M40.5,623v1M41.5,624v1M42.5,624v1M43.5,625v1M44.5,625v1M45.5,624v1M46.5,624v1M47.5,623v1M48.5,622v1M49.5,622v1M50.5,621v1M51.5,618v4M52.5,612v6M53.5,609v3M54.5,607v2M55.5,606v2M56.5,608v2M57.5,610v1M58.5,608v2M59.5,607v1M60.5,607v1M61.5,606v1M62.5,606v1M63.5,607v1M64.5,606v3M65.5,602v4M66.5,599v3M67.5,596v3M68.5,593v3M69.5,592v1M70.5,592v1M71.5,591v1M72.5,592v1M73.5,593v1M74.5,594v1M75.5,594v1M76.5,594v1M77.5,594v1M78.5,594v1M79.5,594v1M80.5,594v1M81.5,595v3M82.5,598v3M83.5,601v2M84.5,603v1M85.5,604v1M86.5,603v2M87.5,602v1M88.5,601v1M89.5,600v1M90.5,599v1M91.5,598v1M92.5,598v1M93.5,599v2M94.5,601v2M95.5,603v2M96.5,605v3M97.5,608v2M98.5,610v2M99.5,612v1M100.5,612v2M101.5,611v2M102.5,613v4M103.5,617v2M104.5,619v2M105.5,621v1M106.5,622v1M107.5,622v1M108.5,621v2M109.5,620v1M110.5,619v2M111.5,621v1M112.5,622v1M113.5,623v1M114.5,616v7M115.5,615v3M116.5,618v2M117.5,619v2M118.5,618v1M119.5,617v1M120.5,617v1M121.5,617v1M122.5,616v1M123.5,614v2M124.5,612v2M125.5,609v3M126.5,608v1M127.5,606v2M128.5,605v1M129.5,605v1M130.5,605v1M131.5,605v1M132.5,606v1M133.5,607v1M134.5,606v1M135.5,605v2M136.5,602v3M137.5,601v3M138.5,604v3M139.5,607v1M140.5,607v1M141.5,606v1M142.5,605v1M143.5,605v1M144.5,605v1M145.5,604v1M146.5,603v1M147.5,600v3M148.5,597v3M149.5,596v1M150.5,596v1M151.5,597v2M152.5,599v1M153.5,599v2M154.5,598v1M155.5,597v1M156.5,598v1M157.5,598v2M158.5,596v2M159.5,595v4M160.5,599v4M161.5,603v1M162.5,602v1M163.5,602v2M164.5,604v2M165.5,606v4M166.5,610v3M167.5,613v1M168.5,613v1M169.5,613v1M170.5,613v1M171.5,612v1M172.5,610v2M173.5,608v2M174.5,607v1M175.5,606v1M176.5,605v1M177.5,604v1M178.5,603v1M179.5,603v1M180.5,602v1M181.5,602v1M182.5,602v1M183.5,603v1M184.5,603v1M185.5,604v5M186.5,609v4M187.5,613v2M188.5,615v1M189.5,616v1M190.5,616v1M191.5,616v1M192.5,616v1M193.5,616v1M194.5,615v2M195.5,613v2M196.5,611v2M197.5,609v2M198.5,608v1M199.5,607v1M200.5,608v1M201.5,609v1M202.5,608v1M203.5,608v1M204.5,607v1M205.5,607v1M206.5,606v1M207.5,606v1M208.5,603v3M209.5,601v2M210.5,600v2M211.5,602v3M212.5,605v1M213.5,606v1M214.5,606v1M215.5,605v1M216.5,604v1M217.5,604v1M218.5,604v1M219.5,603v1M220.5,604v3M221.5,607v2M222.5,609v3M223.5,612v2M224.5,614v2M225.5,616v2M226.5,618v1M227.5,619v1M228.5,620v1M229.5,620v1M230.5,619v1M231.5,619v1M232.5,618v1M233.5,618v1M234.5,618v1M235.5,618v1M236.5,618v1M237.5,617v1M238.5,617v1M239.5,618v1M240.5,619v1M241.5,619v1M242.5,618v1M243.5,619v2M244.5,621v1M245.5,620v1M246.5,619v4M247.5,622v2M248.5,618v4M249.5,616v2M250.5,615v1M251.5,614v1M252.5,613v1M253.5,612v2M254.5,614v2M255.5,616v1M256.5,616v1M257.5,612v4M258.5,609v3M259.5,607v2M260.5,606v1M261.5,606v1M262.5,606v1M263.5,607v1M264.5,607v1M265.5,606v1M266.5,606v1M267.5,607v1M268.5,608v1M269.5,607v1M270.5,606v1M271.5,605v1M272.5,604v1M273.5,605v3M274.5,608v3M275.5,611v1M276.5,612v1M277.5,612v2M278.5,614v2M279.5,616v3M280.5,619v3M281.5,620v3M282.5,617v3M283.5,616v1M284.5,615v1M285.5,614v1M286.5,613v1M287.5,613v1M288.5,614v1M289.5,615v1M290.5,616v1M291.5,617v1M292.5,618v2M293.5,620v3M294.5,623v4M295.5,627v2M296.5,629v3M297.5,632v1M298.5,630v2M299.5,629v1M300.5,629v1M301.5,630v1M302.5,631v1M303.5,632v1M304.5,630v2M305.5,623v7M306.5,617v6M307.5,614v3M308.5,613v1M309.5,614v1M310.5,615v1M311.5,615v1M312.5,616v1M313.5,617v1M314.5,617v1M315.5,618v1M316.5,617v1M317.5,615v2M318.5,612v3M319.5,611v1M320.5,610v1M321.5,609v1M322.5,608v1M323.5,609v1M324.5,609v1M325.5,610v1M326.5,611v1M327.5,612v1M328.5,613v1M329.5,614v1M330.5,614v1M331.5,613v1M332.5,612v1M333.5,613v1M334.5,614v1M335.5,613v1M336.5,613v1M337.5,612v1M338.5,613v1M339.5,612v2M340.5,610v2M341.5,607v3M342.5,605v2M343.5,604v1M344.5,605v4M345.5,609v2M346.5,611v2M347.5,613v2M348.5,615v1M349.5,616v1M350.5,617v1M351.5,617v1M352.5,617v1M353.5,615v2M354.5,613v2M355.5,612v1M356.5,613v2M357.5,615v1M358.5,614v2M359.5,612v2M360.5,611v1M361.5,611v1M362.5,611v1M363.5,612v4M364.5,616v4M365.5,620v3M366.5,623v2M367.5,625v2M368.5,627v1M369.5,628v2M370.5,630v1M371.5,630v1M372.5,630v1M373.5,629v1M374.5,628v1M375.5,625v3M376.5,623v2M377.5,622v1M378.5,621v1M379.5,621v1M380.5,620v1M381.5,620v1M382.5,620v1M383.5,620v1M384.5,621v1M385.5,621v2M386.5,620v1M387.5,619v1M388.5,620v1M389.5,620v1M390.5,619v1M391.5,619v1M392.5,619v1M393.5,620v1M394.5,619v1M395.5,618v1M396.5,619v1M397.5,619v1M398.5,618v1M399.5,617v1M400.5,617v1M401.5,617v1M402.5,618v1M403.5,618v1M404.5,619v2M405.5,621v2M406.5,623v8M407.5,631v8M408.5,639v1M409.5,639v1M410.5,639v1M411.5,640v2M412.5,642v1M413.5,642v1M414.5,643v1M415.5,643v1M416.5,644v1M417.5,644v1M418.5,645v1M419.5,645v1M420.5,642v3M421.5,641v1M422.5,641v1M423.5,641v2M424.5,639v2M425.5,638v1M426.5,639v2M427.5,641v1M428.5,640v1M429.5,640v1M430.5,640v1M431.5,640v1M432.5,640v1M433.5,640v1M434.5,638v2M435.5,636v2M436.5,633v3M437.5,630v3M438.5,629v1M439.5,627v2M440.5,626v1M441.5,626v1M442.5,625v1M443.5,625v1M444.5,626v1M445.5,626v1M446.5,627v1M447.5,627v1M448.5,628v2M449.5,630v1M450.5,628v2M451.5,625v3M452.5,622v3M453.5,619v3M454.5,615v4M455.5,614v1M456.5,614v2M457.5,616v1M458.5,616v1M459.5,615v2M460.5,613v2M461.5,611v2M462.5,609v2M463.5,608v1M464.5,609v3M465.5,612v2M466.5,614v2M467.5,616v1M468.5,617v1M469.5,616v1M470.5,616v1M471.5,616v2M472.5,614v2M473.5,613v1M474.5,612v1M475.5,612v2M476.5,614v2M477.5,616v1M478.5,615v1M479.5,614v1M480.5,613v1M481.5,612v1M482.5,612v1M483.5,613v1M484.5,612v1M485.5,611v2M486.5,608v3M487.5,607v1M488.5,607v4M489.5,611v2M490.5,613v1M491.5,614v1M492.5,615v1M493.5,616v1M494.5,616v1M495.5,615v1M496.5,614v1M497.5,614v1M498.5,613v1M499.5,614v1M500.5,615v1M501.5,614v1M502.5,614v2M503.5,616v1M504.5,617v1M505.5,618v1M506.5,618v1M507.5,617v1M508.5,618v1M509.5,619v2M510.5,621v1M511.5,622v1M512.5,621v2M513.5,620v1M514.5,619v1M515.5,620v1M516.5,620v1M517.5,619v1M518.5,619v1M519.5,620v2M520.5,622v1M521.5,622v2M522.5,624v2M523.5,626v2M524.5,628v1M525.5,629v1M526.5,628v2M527.5,627v1M528.5,627v1M529.5,628v1M530.5,628v1M531.5,629v1M532.5,626v3M533.5,624v2M534.5,621v3M535.5,620v1M536.5,620v2M537.5,622v1M538.5,623v1M539.5,624v1M540.5,624v1M541.5,625v1M542.5,625v1M543.5,625v1M544.5,626v1M545.5,627v1M546.5,623v4M547.5,621v2M548.5,620v1M549.5,618v2M550.5,616v2M551.5,615v1M552.5,615v2M553.5,617v1M554.5,617v1M555.5,616v1M556.5,614v2M557.5,613v1M558.5,614v1M559.5,614v1M560.5,614v1M561.5,614v1M562.5,614v1M563.5,614v1M564.5,614v1M565.5,613v2M566.5,612v1M567.5,611v3M568.5,614v4M569.5,618v2M570.5,620v1M571.5,621v1M572.5,622v2M573.5,624v1M574.5,624v1M575.5,623v1M576.5,623v1M577.5,622v1M578.5,621v1M579.5,620v1M580.5,621v2M581.5,623v1M582.5,624v2M583.5,626v1M584.5,626v1M585.5,627v1M586.5,627v1M587.5,628v1M588.5,629v1M589.5,627v4M590.5,624v3M591.5,620v4M592.5,615v5M593.5,612v3M594.5,610v2M595.5,609v2M596.5,611v2M597.5,613v1M598.5,612v1M599.5,612v1M600.5,612v1M601.5,613v1M602.5,613v1M603.5,612v2M604.5,611v1M605.5,610v1M606.5,609v1M607.5,608v1M608.5,607v1M609.5,607v1M610.5,606v1M611.5,606v1M612.5,605v1M613.5,606v1M614.5,607v2M615.5,609v3M616.5,612v2M617.5,612v3M618.5,610v2M619.5,609v1M620.5,610v2M621.5,612v1M622.5,611v1M623.5,611v1M624.5,610v1M625.5,610v1M626.5,611v2M627.5,613v2M628.5,615v2M629.5,617v2M630.5,619v2M631.5,621v2M632.5,623v2M633.5,625v2M634.5,627v2M635.5,629v1M636.5,627v2M637.5,626v1M638.5,625v1M639.5,624v1M640.5,623v2M641.5,619v4M642.5,616v3M643.5,615v1M644.5,614v1M645.5,613v1M646.5,612v1M647.5,612v1M648.5,613v1M649.5,613v1M650.5,611v2M651.5,610v1M652.5,610v1M653.5,611v3M654.5,614v2M655.5,616v2M656.5,618v1M657.5,619v1M658.5,619v1M659.5,619v1M660.5,618v1M661.5,617v1M662.5,618v1M663.5,617v2M664.5,616v1M665.5,615v2M666.5,617v2M667.5,619v1M668.5,618v1M669.5,617v1M670.5,616v1M671.5,616v1M672.5,617v1M673.5,618v2M674.5,620v1M675.5,621v2M676.5,623v1M677.5,621v4M678.5,616v5M679.5,615v1M680.5,615v1M681.5,615v1M682.5,616v1M683.5,617v1M684.5,617v1M685.5,618v2M686.5,620v1M687.5,619v3M688.5,617v2M689.5,616v4M690.5,620v3M691.5,623v1M692.5,622v1M693.5,621v1M694.5,620v1M695.5,619v1M696.5,620v1M697.5,621v1M698.5,621v1M699.5,621v2M700.5,620v1M701.5,619v1M702.5,617v2M703.5,615v2M704.5,614v1M705.5,613v1M706.5,612v1M707.5,612v1M708.5,612v1M709.5,612v1M710.5,613v1M711.5,613v1M712.5,612v2M713.5,610v2M714.5,609v1M715.5,608v7M716.5,615v4M717.5,619v1M718.5,619v1M719.5,619v1M720.5,619v1M721.5,619v1M722.5,619v1M723.5,620v1M724.5,620v1M725.5,620v1M726.5,620v1M727.5,620v1M728.5,621v1M729.5,620v2M730.5,619v1M731.5,618v1M732.5,618v1M733.5,617v1M734.5,617v1M735.5,614v3M736.5,612v2M737.5,609v3M738.5,607v2M739.5,606v1M740.5,605v1M741.5,605v1M742.5,606v1M743.5,607v1M744.5,608v1M745.5,608v1M746.5,609v2M747.5,611v3M748.5,614v1M749.5,611v4M750.5,608v3M751.5,605v3M752.5,604v1M753.5,603v1M754.5,604v1M755.5,605v1M756.5,605v1M757.5,606v1M758.5,606v1M759.5,607v1M760.5,608v3M761.5,611v4M762.5,615v1M763.5,613v3M764.5,609v4M765.5,605v4M766.5,604v1M767.5,603v1M768.5,602v1M769.5,601v1M770.5,601v1M771.5,599v2M772.5,598v1M773.5,597v1M774.5,597v1M775.5,596v1M776.5,596v1M777.5,596v1M778.5,596v1M779.5,596v1M780.5,597v1M781.5,598v1M782.5,599v1M783.5,598v1M784.5,597v2M785.5,599v4M786.5,603v2M787.5,605v1M788.5,606v2M789.5,608v1M790.5,609v1M791.5,608v2M792.5,607v1M793.5,606v1M794.5,605v1M795.5,604v1M796.5,603v1M797.5,604v1M798.5,605v1M799.5,606v1M800.5,607v1M801.5,608v1M802.5,609v1M803.5,608v1M804.5,607v1M805.5,607v1M806.5,606v1M807.5,606v1M808.5,606v1M809.5,607v2M810.5,609v2M811.5,611v2M812.5,613v1M813.5,613v1M814.5,614v1M815.5,613v1M816.5,612v1M817.5,611v1M818.5,610v1M819.5,610v1M820.5,610v2M821.5,611v2M822.5,607v4M823.5,606v8M824.5,614v4M825.5,618v1M826.5,619v1M827.5,619v1M828.5,619v1M829.5,619v1M830.5,620v1M831.5,620v1M832.5,619v1M833.5,619v1M834.5,618v1M835.5,618v1M836.5,618v1M837.5,618v1M838.5,619v1M839.5,620v1M840.5,621v1M841.5,622v1M842.5,623v1M843.5,624v2M844.5,626v2M845.5,628v2M846.5,630v2M847.5,632v2M848.5,634v1M849.5,634v1M850.5,634v1M851.5,634v1M852.5,634v1M853.5,634v1M854.5,634v1M855.5,634v1M856.5,634v1M857.5,635v1M858.5,635v1M859.5,636v1M860.5,636v1M861.5,635v2M862.5,634v1M863.5,635v2M864.5,637v1M865.5,637v1M866.5,636v2M867.5,635v1M868.5,635v2M869.5,637v1M870.5,637v1M871.5,638v1M872.5,636v2M873.5,635v1M874.5,636v1M875.5,636v1M876.5,635v1M877.5,634v1M878.5,634v1M879.5,634v1M880.5,634v2M881.5,627v7M882.5,624v3M883.5,622v2M884.5,621v1M885.5,620v1M886.5,620v1M887.5,619v1M888.5,619v1M889.5,619v1M890.5,619v1M891.5,619v1M892.5,620v1M893.5,621v1M894.5,622v1M895.5,623v1M896.5,623v1M897.5,622v1M898.5,621v1M899.5,620v1M900.5,619v1M901.5,619v1M902.5,618v1M903.5,616v2M904.5,613v3M905.5,610v3M906.5,607v3M907.5,602v5M908.5,599v3M909.5,598v1M910.5,597v1M911.5,597v1M912.5,597v1M913.5,598v2M914.5,600v2M915.5,602v2M916.5,604v1M917.5,605v1M918.5,604v1M919.5,604v3M920.5,607v2M921.5,609v1M922.5,608v1M923.5,608v1M924.5,607v1M925.5,607v1M926.5,607v1"/>
<text x="1171.3" y="52.6" font-size="9.8" fill="#000" textLength="32.7" lengthAdjust="spacingAndGlyphs" >1.22590</text>
<text x="1171.3" y="85.6" font-size="9.8" fill="#000" textLength="32.7" lengthAdjust="spacingAndGlyphs" >1.22160</text>
<text x="1171.3" y="118.6" font-size="9.8" fill="#000" textLength="32.7" lengthAdjust="spacingAndGlyphs" >1.21720</text>
<text x="1171.3" y="151.6" font-size="9.8" fill="#000" textLength="32.7" lengthAdjust="spacingAndGlyphs" >1.21290</text>
<text x="1171.3" y="184.6" font-size="9.8" fill="#000" textLength="32.7" lengthAdjust="spacingAndGlyphs" >1.20850</text>
<text x="1171.3" y="217.6" font-size="9.8" fill="#000" textLength="32.7" lengthAdjust="spacingAndGlyphs" >1.20420</text>
<text x="1171.3" y="250.6" font-size="9.8" fill="#000" textLength="32.7" lengthAdjust="spacingAndGlyphs" >1.19980</text>
<text x="1171.3" y="283.6" font-size="9.8" fill="#000" textLength="32.7" lengthAdjust="spacingAndGlyphs" >1.19550</text>
<text x="1171.3" y="316.6" font-size="9.8" fill="#000" textLength="32.7" lengthAdjust="spacingAndGlyphs" >1.19110</text>
<text x="1171.3" y="349.6" font-size="9.8" fill="#000" textLength="32.7" lengthAdjust="spacingAndGlyphs" >1.18680</text>
<text x="1171.3" y="382.6" font-size="9.8" fill="#000" textLength="32.7" lengthAdjust="spacingAndGlyphs" >1.18240</text>
<text x="1171.3" y="415.6" font-size="9.8" fill="#000" textLength="32.7" lengthAdjust="spacingAndGlyphs" >1.17810</text>
<text x="1171.3" y="448.6" font-size="9.8" fill="#000" textLength="32.7" lengthAdjust="spacingAndGlyphs" >1.17380</text>
<text x="1171.3" y="481.6" font-size="9.8" fill="#000" textLength="32.7" lengthAdjust="spacingAndGlyphs" >1.16940</text>
<g shape-rendering="crispEdges">
<rect x="1167" y="163" width="41" height="11" fill="#ff0000"/>
<rect x="1167" y="240" width="41" height="11" fill="#ff0000"/>
<rect x="1167" y="316" width="41" height="11" fill="#ff0000"/>
<rect x="1167" y="390" width="41" height="11" fill="#00ff00"/>
<rect x="1167" y="410" width="41" height="11" fill="#000000"/>
<rect x="1167" y="467" width="41" height="11" fill="#0000ff"/>
</g>
<text x="1171.3" y="172.1" font-size="9.8" fill="#fff" textLength="32.7" lengthAdjust="spacingAndGlyphs" stroke="#fff" stroke-width=".25">1.21010</text>
<text x="1171.3" y="249.1" font-size="9.8" fill="#fff" textLength="32.7" lengthAdjust="spacingAndGlyphs" stroke="#fff" stroke-width=".25">1.20004</text>
<text x="1171.3" y="325.1" font-size="9.8" fill="#fff" textLength="32.7" lengthAdjust="spacingAndGlyphs" stroke="#fff" stroke-width=".25">1.18998</text>
<text x="1171.3" y="399.1" font-size="9.8" fill="#fff" textLength="32.7" lengthAdjust="spacingAndGlyphs" stroke="#fff" stroke-width=".25">1.18024</text>
<text x="1171.3" y="419.1" font-size="9.8" fill="#fff" textLength="32.7" lengthAdjust="spacingAndGlyphs" stroke="#fff" stroke-width=".25">1.17777</text>
<text x="1171.3" y="476.1" font-size="9.8" fill="#fff" textLength="32.7" lengthAdjust="spacingAndGlyphs" stroke="#fff" stroke-width=".25">1.17002</text>
<text x="1169.0" y="493.5" font-size="9.8" fill="#000" textLength="37.6" lengthAdjust="spacingAndGlyphs" >0.003873</text>
<text x="1169.0" y="517.0" font-size="9.8" fill="#000" textLength="18.0" lengthAdjust="spacingAndGlyphs" >0.00</text>
<text x="1169.0" y="564.0" font-size="9.8" fill="#000" textLength="42.0" lengthAdjust="spacingAndGlyphs" >-0.007195</text>
<text x="1169.3" y="580.0" font-size="9.8" fill="#000" textLength="14.7" lengthAdjust="spacingAndGlyphs" >100</text>
<text x="1169.3" y="600.2" font-size="9.8" fill="#000" textLength="9.7" lengthAdjust="spacingAndGlyphs" >70</text>
<text x="1169.3" y="634.2" font-size="9.8" fill="#000" textLength="9.7" lengthAdjust="spacingAndGlyphs" >30</text>
<text x="1169.3" y="653.0" font-size="9.8" fill="#000" textLength="4.9" lengthAdjust="spacingAndGlyphs" >0</text>
<text x="18.3" y="33.0" font-size="9.8" fill="#000" textLength="53.3" lengthAdjust="spacingAndGlyphs" >EURUSD,H4</text>
<text x="78.5" y="33.0" font-size="9.8" fill="#000" textLength="140.3" lengthAdjust="spacingAndGlyphs" >1.17777 1.17782 1.17777 1.17777</text>
<path d="M6,32 L9.5,27.8 L13,32 Z" fill="#000"/>
<text x="7.4" y="496.0" font-size="9.8" fill="#000" textLength="147.6" lengthAdjust="spacingAndGlyphs" >MACD(12,26,9) 0.000730 0.000659</text>
<text x="7.4" y="582.3" font-size="9.8" fill="#000" textLength="67.1" lengthAdjust="spacingAndGlyphs" >RSI(14) 56.5801</text>
<text x="2.3" y="669.2" font-size="10.2" fill="#000" textLength="50.5" lengthAdjust="spacingAndGlyphs" >30 Apr 2021</text>
<text x="66.2" y="669.2" font-size="10.2" fill="#000" textLength="53.0" lengthAdjust="spacingAndGlyphs" >7 May 18:00</text>
<text x="130.0" y="669.2" font-size="10.2" fill="#000" textLength="58.0" lengthAdjust="spacingAndGlyphs" >15 May 00:00</text>
<text x="194.4" y="669.2" font-size="10.2" fill="#000" textLength="57.3" lengthAdjust="spacingAndGlyphs" >24 May 11:00</text>
<text x="258.3" y="669.2" font-size="10.2" fill="#000" textLength="57.3" lengthAdjust="spacingAndGlyphs" >31 May 19:00</text>
<text x="322.8" y="669.2" font-size="10.2" fill="#000" textLength="47.1" lengthAdjust="spacingAndGlyphs" >8 Jun 00:00</text>
<text x="386.4" y="669.2" font-size="10.2" fill="#000" textLength="52.6" lengthAdjust="spacingAndGlyphs" >15 Jun 10:00</text>
<text x="450.3" y="669.2" font-size="10.2" fill="#000" textLength="52.3" lengthAdjust="spacingAndGlyphs" >22 Jun 18:00</text>
<text x="514.2" y="669.2" font-size="10.2" fill="#000" textLength="52.4" lengthAdjust="spacingAndGlyphs" >30 Jun 00:00</text>
<text x="578.8" y="669.2" font-size="10.2" fill="#000" textLength="43.7" lengthAdjust="spacingAndGlyphs" >7 Jul 10:00</text>
<text x="642.4" y="669.2" font-size="10.2" fill="#000" textLength="49.0" lengthAdjust="spacingAndGlyphs" >14 Jul 18:00</text>
<text x="706.3" y="669.2" font-size="10.2" fill="#000" textLength="49.7" lengthAdjust="spacingAndGlyphs" >22 Jul 00:00</text>
<text x="770.2" y="669.2" font-size="10.2" fill="#000" textLength="49.4" lengthAdjust="spacingAndGlyphs" >29 Jul 10:00</text>
<text x="833.8" y="669.2" font-size="10.2" fill="#000" textLength="51.3" lengthAdjust="spacingAndGlyphs" >5 Aug 18:00</text>
<text x="898.6" y="669.2" font-size="10.2" fill="#000" textLength="55.1" lengthAdjust="spacingAndGlyphs" >13 Aug 00:00</text>
<text x="-1.5" y="8.8" font-size="10.6" fill="#3a3a3a" textLength="5.5" lengthAdjust="spacingAndGlyphs" >5</text>
<text x="14.6" y="8.8" font-size="10.6" fill="#3a3a3a" textLength="17.7" lengthAdjust="spacingAndGlyphs" >M30</text>
<text x="45.5" y="8.8" font-size="10.6" fill="#3a3a3a" textLength="11.5" lengthAdjust="spacingAndGlyphs" >H1</text>
<text x="72.8" y="8.8" font-size="10.6" fill="#3a3a3a" textLength="12.5" lengthAdjust="spacingAndGlyphs" >H4</text>
<text x="101.3" y="8.8" font-size="10.6" fill="#3a3a3a" textLength="12.1" lengthAdjust="spacingAndGlyphs" >D1</text>
<text x="129.0" y="8.8" font-size="10.6" fill="#3a3a3a" textLength="14.0" lengthAdjust="spacingAndGlyphs" >W1</text>
<text x="155.6" y="8.8" font-size="10.6" fill="#3a3a3a" textLength="14.4" lengthAdjust="spacingAndGlyphs" >MN</text>
<text x="16.4" y="693.7" font-size="12.0" fill="#000" textLength="67.4" lengthAdjust="spacingAndGlyphs" >EURUSD,H4</text>
<text x="106.6" y="693.7" font-size="12.0" fill="#6d6d6d" textLength="82.8" lengthAdjust="spacingAndGlyphs" >AUDUSD,Daily</text>
<text x="210.3" y="693.7" font-size="12.0" fill="#6d6d6d" textLength="66.2" lengthAdjust="spacingAndGlyphs" >USDCHF,H4</text>
<text x="299.0" y="693.7" font-size="12.0" fill="#6d6d6d" textLength="81.0" lengthAdjust="spacingAndGlyphs" >USDCAD,Daily</text>
<text x="402.6" y="693.7" font-size="12.0" fill="#6d6d6d" textLength="82.8" lengthAdjust="spacingAndGlyphs" >USDCNH,Daily</text>
<text x="508.3" y="693.7" font-size="12.0" fill="#6d6d6d" textLength="51.7" lengthAdjust="spacingAndGlyphs" >UKOil,H1</text>
<text x="582.0" y="693.7" font-size="12.0" fill="#6d6d6d" textLength="46.5" lengthAdjust="spacingAndGlyphs" >DJ30,H1</text>
<text x="652.3" y="693.7" font-size="12.0" fill="#6d6d6d" textLength="50.7" lengthAdjust="spacingAndGlyphs" >USDX,H1</text>
<text x="727.0" y="693.7" font-size="12.0" fill="#6d6d6d" textLength="68.7" lengthAdjust="spacingAndGlyphs" >XAUUSD,H1</text>
<text x="820.3" y="693.7" font-size="12.0" fill="#6d6d6d" textLength="67.5" lengthAdjust="spacingAndGlyphs" >GBPUSD,H1</text>
<g shape-rendering="crispEdges" stroke="#555" stroke-width="1"><path d="M200.5,683 V695 M288.5,683 V695 M392.5,683 V695 M496.5,683 V695 M572.5,683 V695 M640.5,683 V695 M716.5,683 V695 M808.5,683 V695 M900.5,683 V695"/></g>
<path d="M1184,685 v6.4 l-3.6,-3.2 Z M1200,685 v6.4 l3.6,-3.2 Z" fill="#a0a0a0"/>
</svg>
<!-- one click trading panel -->
<div class="abs ptab" style="left:6px;top:41px;width:52px;height:25px"><span class="lab" style="left:12px;top:6px;letter-spacing:-1px">SELL</span></div>
<div class="abs" style="left:10px;top:64px;width:44px;height:1px;background:#a20000"></div>
<div class="abs ptab" style="left:173px;top:41px;width:52px;height:25px"><span class="lab" style="left:13px;top:6px">BUY</span></div>
<div class="abs" style="left:177px;top:64px;width:44px;height:1px;background:#a20000"></div>
<div class="abs pbox" style="left:6px;top:65px;width:109px;height:33px"><span class="sm" style="left:20px;top:19px">1.17</span><span class="big" style="left:45px;top:0px">78</span><span class="sup" style="left:87px;top:3px">0</span></div>
<div class="abs pbox" style="left:117px;top:65px;width:108px;height:33px"><span class="sm" style="left:19px;top:19px">1.17</span><span class="big" style="left:45px;top:0px">79</span><span class="sup" style="left:87px;top:3px">0</span></div>
<div class="abs" style="left:58px;top:41px;width:115px;height:24px;background:#fff"></div>
<div class="abs" style="left:60px;top:41px;width:111px;height:22px;background:#fff;border:1px solid #a9afbb;box-sizing:border-box"></div>
<div class="abs" style="left:62px;top:43px;width:18px;height:18px;background:linear-gradient(#efefef 0,#e6e6e6 40%,#d6d6d6 45%,#d2d2d2)"></div>
<div class="abs" style="left:81px;top:42px;width:1px;height:20px;background:#a9afbb"></div>
<div class="abs" style="left:151px;top:43px;width:18px;height:18px;background:linear-gradient(#efefef 0,#e6e6e6 40%,#d6d6d6 45%,#d2d2d2)"></div>
<div class="abs" style="left:149px;top:42px;width:1px;height:20px;background:#a9afbb"></div>
<svg class="abs" style="left:60px;top:41px" width="111" height="22"><path d="M7.8,9.2 h6 l-3,3.6 Z" fill="#4a5fc0"/><path d="M96.5,12.4 h6 l-3,-3.6 Z" fill="#4a5fc0"/></svg>
<div class="abs" style="left:122px;top:45px;font-size:12px;line-height:14px;color:#000;letter-spacing:-.1px">3.00</div>
</body></html>
